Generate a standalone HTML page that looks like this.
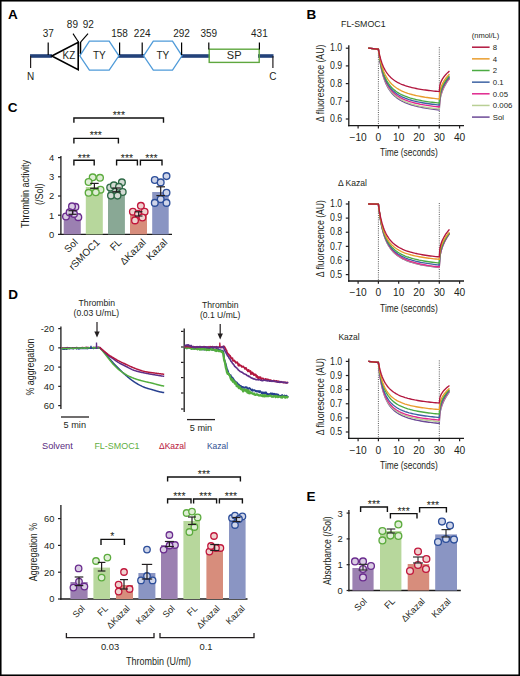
<!DOCTYPE html>
<html><head><meta charset="utf-8"><style>
html,body{margin:0;padding:0;background:#fff;}
svg{display:block;}
text{font-family:"Liberation Sans", sans-serif;}
</style></head><body>
<svg width="520" height="676" viewBox="0 0 520 676">
<rect width="520" height="676" fill="#fff"/>
<text x="8.00" y="19.20" font-size="13.5" fill="#000" font-weight="bold" >A</text>
<text x="306.50" y="19.40" font-size="13.5" fill="#000" font-weight="bold" >B</text>
<text x="7.80" y="111.60" font-size="13.5" fill="#000" font-weight="bold" >C</text>
<text x="8.20" y="299.20" font-size="13.5" fill="#000" font-weight="bold" >D</text>
<text x="306.50" y="500.60" font-size="13.5" fill="#000" font-weight="bold" >E</text>
<rect x="30.00" y="54.20" width="22.00" height="3.60" fill="#23427a" stroke="none" stroke-width="0" />
<rect x="118.00" y="54.20" width="26.00" height="3.60" fill="#23427a" stroke="none" stroke-width="0" />
<rect x="181.00" y="54.20" width="29.00" height="3.60" fill="#23427a" stroke="none" stroke-width="0" />
<rect x="258.00" y="54.20" width="15.50" height="3.60" fill="#23427a" stroke="none" stroke-width="0" />
<line x1="30.60" y1="56.00" x2="30.60" y2="68.00" stroke="#231f20" stroke-width="1.2" />
<line x1="272.90" y1="56.00" x2="272.90" y2="68.00" stroke="#231f20" stroke-width="1.2" />
<text x="30.60" y="80.20" font-size="10" fill="#231f20" text-anchor="middle" >N</text>
<text x="272.90" y="80.20" font-size="10" fill="#231f20" text-anchor="middle" >C</text>
<path d="M51.8,56 L78.2,42.2 L78.2,69.6 Z" stroke="#000" stroke-width="1.6" fill="none" />
<text x="68.90" y="59.40" font-size="11" fill="#231f20" text-anchor="middle" textLength="12.60" lengthAdjust="spacingAndGlyphs" >KZ</text>
<line x1="78.60" y1="42.00" x2="78.60" y2="54.00" stroke="#000" stroke-width="1.3" />
<line x1="80.60" y1="42.00" x2="80.60" y2="54.00" stroke="#000" stroke-width="1.3" />
<line x1="78.60" y1="42.20" x2="73.00" y2="33.60" stroke="#000" stroke-width="1.1" />
<line x1="80.60" y1="42.20" x2="88.00" y2="33.60" stroke="#000" stroke-width="1.1" />
<text x="72.40" y="27.80" font-size="10" fill="#231f20" text-anchor="middle" >89</text>
<text x="88.20" y="27.80" font-size="10" fill="#231f20" text-anchor="middle" >92</text>
<path d="M79.8,55.8 L89.4,41.2 L109.2,41.2 L118.9,55.8 L109.2,70.2 L89.4,70.2 Z" stroke="#4f9bd9" stroke-width="1.3" fill="none" />
<path d="M143.6,55.8 L153.3,41.2 L172.5,41.2 L182.0,55.8 L172.5,70.2 L153.3,70.2 Z" stroke="#4f9bd9" stroke-width="1.3" fill="none" />
<text x="99.30" y="59.40" font-size="11" fill="#231f20" text-anchor="middle" textLength="12.80" lengthAdjust="spacingAndGlyphs" >TY</text>
<text x="162.90" y="59.40" font-size="11" fill="#231f20" text-anchor="middle" textLength="12.80" lengthAdjust="spacingAndGlyphs" >TY</text>
<rect x="209.20" y="49.20" width="50.00" height="13.20" fill="none" stroke="#5fa73f" stroke-width="1.4" />
<text x="234.20" y="59.40" font-size="11" fill="#231f20" text-anchor="middle" >SP</text>
<line x1="48.20" y1="42.40" x2="48.20" y2="55.00" stroke="#000" stroke-width="1.2" />
<text x="48.20" y="36.60" font-size="10" fill="#231f20" text-anchor="middle" >37</text>
<line x1="119.60" y1="42.40" x2="119.60" y2="55.00" stroke="#000" stroke-width="1.2" />
<text x="119.60" y="36.60" font-size="10" fill="#231f20" text-anchor="middle" >158</text>
<line x1="142.20" y1="42.40" x2="142.20" y2="55.00" stroke="#000" stroke-width="1.2" />
<text x="142.20" y="36.60" font-size="10" fill="#231f20" text-anchor="middle" >224</text>
<line x1="181.60" y1="42.40" x2="181.60" y2="55.00" stroke="#000" stroke-width="1.2" />
<text x="181.60" y="36.60" font-size="10" fill="#231f20" text-anchor="middle" >292</text>
<line x1="208.80" y1="42.40" x2="208.80" y2="49.50" stroke="#000" stroke-width="1.2" />
<text x="208.80" y="36.60" font-size="10" fill="#231f20" text-anchor="middle" >359</text>
<line x1="259.40" y1="42.40" x2="259.40" y2="49.50" stroke="#000" stroke-width="1.2" />
<text x="259.40" y="36.60" font-size="10" fill="#231f20" text-anchor="middle" >431</text>
<text x="341.00" y="27.20" font-size="9.6" fill="#231f20" textLength="44.60" lengthAdjust="spacingAndGlyphs" >FL-SMOC1</text>
<line x1="348.80" y1="45.20" x2="348.80" y2="126.30" stroke="#1a1a1a" stroke-width="1.3" />
<line x1="348.10" y1="125.60" x2="464.00" y2="125.60" stroke="#1a1a1a" stroke-width="1.3" />
<line x1="345.80" y1="48.20" x2="349.00" y2="48.20" stroke="#231f20" stroke-width="1.2" />
<text x="342.20" y="51.40" font-size="10.2" fill="#231f20" text-anchor="end" textLength="12.20" lengthAdjust="spacingAndGlyphs" >1.0</text>
<line x1="345.80" y1="65.90" x2="349.00" y2="65.90" stroke="#231f20" stroke-width="1.2" />
<text x="342.20" y="69.10" font-size="10.2" fill="#231f20" text-anchor="end" textLength="12.20" lengthAdjust="spacingAndGlyphs" >0.9</text>
<line x1="345.80" y1="83.60" x2="349.00" y2="83.60" stroke="#231f20" stroke-width="1.2" />
<text x="342.20" y="86.80" font-size="10.2" fill="#231f20" text-anchor="end" textLength="12.20" lengthAdjust="spacingAndGlyphs" >0.8</text>
<line x1="345.80" y1="101.30" x2="349.00" y2="101.30" stroke="#231f20" stroke-width="1.2" />
<text x="342.20" y="104.50" font-size="10.2" fill="#231f20" text-anchor="end" textLength="12.20" lengthAdjust="spacingAndGlyphs" >0.7</text>
<line x1="345.80" y1="119.00" x2="349.00" y2="119.00" stroke="#231f20" stroke-width="1.2" />
<text x="342.20" y="122.20" font-size="10.2" fill="#231f20" text-anchor="end" textLength="12.20" lengthAdjust="spacingAndGlyphs" >0.6</text>
<line x1="358.10" y1="125.60" x2="358.10" y2="128.40" stroke="#231f20" stroke-width="1.2" />
<text x="358.10" y="140.60" font-size="10.2" fill="#231f20" text-anchor="middle" >−10</text>
<line x1="378.40" y1="125.60" x2="378.40" y2="128.40" stroke="#231f20" stroke-width="1.2" />
<text x="378.40" y="140.60" font-size="10.2" fill="#231f20" text-anchor="middle" >0</text>
<line x1="398.70" y1="125.60" x2="398.70" y2="128.40" stroke="#231f20" stroke-width="1.2" />
<text x="398.70" y="140.60" font-size="10.2" fill="#231f20" text-anchor="middle" >10</text>
<line x1="419.00" y1="125.60" x2="419.00" y2="128.40" stroke="#231f20" stroke-width="1.2" />
<text x="419.00" y="140.60" font-size="10.2" fill="#231f20" text-anchor="middle" >20</text>
<line x1="439.30" y1="125.60" x2="439.30" y2="128.40" stroke="#231f20" stroke-width="1.2" />
<text x="439.30" y="140.60" font-size="10.2" fill="#231f20" text-anchor="middle" >30</text>
<line x1="459.60" y1="125.60" x2="459.60" y2="128.40" stroke="#231f20" stroke-width="1.2" />
<text x="459.60" y="140.60" font-size="10.2" fill="#231f20" text-anchor="middle" >40</text>
<text x="408.90" y="156.40" font-size="11" fill="#231f20" text-anchor="middle" textLength="57.70" lengthAdjust="spacingAndGlyphs" >Time (seconds)</text>
<text x="323.60" y="83.30" font-size="10.8" fill="#231f20" text-anchor="middle" textLength="77.20" lengthAdjust="spacingAndGlyphs" transform="rotate(-90 323.60 83.30)" >Δ fluorescence (AU)</text>
<line x1="378.40" y1="48.20" x2="378.40" y2="125.60" stroke="#333" stroke-width="0.8" stroke-dasharray="1 1.2"/>
<line x1="439.30" y1="47.20" x2="439.30" y2="125.60" stroke="#333" stroke-width="0.8" stroke-dasharray="1 1.2"/>
<path d="M368.25,48.20 L378.40,49.26 L378.44,49.61 L378.53,50.46 L378.68,51.71 L378.87,53.27 L379.10,55.08 L379.37,57.09 L379.67,59.22 L380.02,61.45 L380.40,63.71 L380.82,65.99 L381.27,68.25 L381.76,70.46 L382.28,72.62 L382.84,74.71 L383.42,76.72 L384.04,78.64 L384.69,80.48 L385.37,82.23 L386.09,83.88 L386.83,85.45 L387.60,86.94 L388.41,88.34 L389.24,89.66 L390.10,90.91 L391.00,92.09 L391.92,93.21 L392.87,94.26 L393.85,95.24 L394.85,96.18 L395.89,97.06 L396.95,97.89 L398.04,98.68 L399.16,99.42 L400.31,100.12 L401.48,100.78 L402.68,101.41 L403.91,102.01 L405.16,102.57 L406.45,103.11 L407.75,103.61 L409.09,104.10 L410.45,104.55 L411.83,104.99 L413.25,105.40 L414.69,105.80 L416.15,106.17 L417.64,106.53 L419.15,106.87 L420.70,107.20 L422.26,107.51 L423.85,107.81 L425.47,108.09 L427.11,108.36 L428.78,108.62 L430.47,108.87 L432.19,109.11 L433.93,109.34 L435.69,109.56 L437.49,109.77 L439.30,109.97 L439.81,101.07 L440.31,98.06 L440.82,95.85 L441.33,94.04 L441.84,92.47 L442.34,91.08 L442.85,89.81 L443.36,88.65 L443.87,87.57 L444.38,86.56 L444.88,85.60 L445.39,84.69 L445.90,83.83 L446.40,83.00 L446.91,82.21 L447.42,81.45 L447.93,80.71 L448.43,80.00 L448.94,79.31 L449.45,78.64" stroke="#6c4a97" stroke-width="1.35" fill="none" stroke-linejoin="round"/>
<path d="M368.25,48.20 L378.40,49.26 L378.44,49.60 L378.53,50.42 L378.68,51.63 L378.87,53.14 L379.10,54.89 L379.37,56.83 L379.67,58.91 L380.02,61.07 L380.40,63.27 L380.82,65.49 L381.27,67.70 L381.76,69.87 L382.28,71.99 L382.84,74.03 L383.42,76.01 L384.04,77.90 L384.69,79.71 L385.37,81.43 L386.09,83.07 L386.83,84.62 L387.60,86.09 L388.41,87.48 L389.24,88.79 L390.10,90.04 L391.00,91.21 L391.92,92.31 L392.87,93.36 L393.85,94.34 L394.85,95.27 L395.89,96.15 L396.95,96.98 L398.04,97.76 L399.16,98.51 L400.31,99.21 L401.48,99.87 L402.68,100.50 L403.91,101.09 L405.16,101.66 L406.45,102.19 L407.75,102.70 L409.09,103.19 L410.45,103.65 L411.83,104.08 L413.25,104.50 L414.69,104.89 L416.15,105.27 L417.64,105.63 L419.15,105.97 L420.70,106.30 L422.26,106.61 L423.85,106.91 L425.47,107.20 L427.11,107.47 L428.78,107.73 L430.47,107.98 L432.19,108.22 L433.93,108.45 L435.69,108.67 L437.49,108.88 L439.30,109.09 L439.81,100.34 L440.31,97.38 L440.82,95.21 L441.33,93.42 L441.84,91.88 L442.34,90.51 L442.85,89.27 L443.36,88.13 L443.87,87.07 L444.38,86.07 L444.88,85.13 L445.39,84.24 L445.90,83.39 L446.40,82.57 L446.91,81.80 L447.42,81.05 L447.93,80.32 L448.43,79.62 L448.94,78.95 L449.45,78.29" stroke="#b9cf95" stroke-width="1.35" fill="none" stroke-linejoin="round"/>
<path d="M368.25,48.20 L378.40,49.26 L378.44,49.59 L378.53,50.40 L378.68,51.58 L378.87,53.06 L379.10,54.77 L379.37,56.67 L379.67,58.69 L380.02,60.80 L380.40,62.95 L380.82,65.11 L381.27,67.25 L381.76,69.36 L382.28,71.41 L382.84,73.39 L383.42,75.30 L384.04,77.13 L384.69,78.87 L385.37,80.53 L386.09,82.11 L386.83,83.60 L387.60,85.01 L388.41,86.35 L389.24,87.61 L390.10,88.80 L391.00,89.92 L391.92,90.98 L392.87,91.98 L393.85,92.92 L394.85,93.81 L395.89,94.65 L396.95,95.44 L398.04,96.19 L399.16,96.90 L400.31,97.57 L401.48,98.20 L402.68,98.80 L403.91,99.37 L405.16,99.90 L406.45,100.41 L407.75,100.90 L409.09,101.36 L410.45,101.79 L411.83,102.21 L413.25,102.60 L414.69,102.98 L416.15,103.34 L417.64,103.68 L419.15,104.01 L420.70,104.32 L422.26,104.61 L423.85,104.90 L425.47,105.17 L427.11,105.43 L428.78,105.68 L430.47,105.91 L432.19,106.14 L433.93,106.36 L435.69,106.57 L437.49,106.77 L439.30,106.96 L439.81,98.67 L440.31,95.86 L440.82,93.80 L441.33,92.11 L441.84,90.65 L442.34,89.35 L442.85,88.17 L443.36,87.09 L443.87,86.08 L444.38,85.14 L444.88,84.24 L445.39,83.40 L445.90,82.59 L446.40,81.82 L446.91,81.08 L447.42,80.37 L447.93,79.69 L448.43,79.02 L448.94,78.38 L449.45,77.76" stroke="#e0288e" stroke-width="1.35" fill="none" stroke-linejoin="round"/>
<path d="M368.25,48.20 L378.40,49.26 L378.44,49.58 L378.53,50.35 L378.68,51.49 L378.87,52.91 L379.10,54.56 L379.37,56.38 L379.67,58.33 L380.02,60.35 L380.40,62.42 L380.82,64.50 L381.27,66.57 L381.76,68.60 L382.28,70.57 L382.84,72.49 L383.42,74.33 L384.04,76.10 L384.69,77.78 L385.37,79.39 L386.09,80.91 L386.83,82.35 L387.60,83.72 L388.41,85.01 L389.24,86.23 L390.10,87.38 L391.00,88.47 L391.92,89.50 L392.87,90.47 L393.85,91.38 L394.85,92.24 L395.89,93.06 L396.95,93.82 L398.04,94.55 L399.16,95.24 L400.31,95.89 L401.48,96.50 L402.68,97.08 L403.91,97.63 L405.16,98.16 L406.45,98.65 L407.75,99.12 L409.09,99.57 L410.45,99.99 L411.83,100.40 L413.25,100.78 L414.69,101.14 L416.15,101.49 L417.64,101.82 L419.15,102.14 L420.70,102.44 L422.26,102.73 L423.85,103.01 L425.47,103.27 L427.11,103.52 L428.78,103.76 L430.47,104.00 L432.19,104.22 L433.93,104.43 L435.69,104.63 L437.49,104.83 L439.30,105.02 L439.81,97.02 L440.31,94.32 L440.82,92.33 L441.33,90.70 L441.84,89.30 L442.34,88.04 L442.85,86.91 L443.36,85.86 L443.87,84.89 L444.38,83.98 L444.88,83.12 L445.39,82.31 L445.90,81.53 L446.40,80.79 L446.91,80.08 L447.42,79.39 L447.93,78.73 L448.43,78.09 L448.94,77.47 L449.45,76.87" stroke="#3d63a3" stroke-width="1.35" fill="none" stroke-linejoin="round"/>
<path d="M368.25,48.20 L378.40,49.26 L378.44,49.56 L378.53,50.28 L378.68,51.33 L378.87,52.66 L379.10,54.21 L379.37,55.92 L379.67,57.75 L380.02,59.66 L380.40,61.61 L380.82,63.58 L381.27,65.55 L381.76,67.48 L382.28,69.37 L382.84,71.20 L383.42,72.97 L384.04,74.67 L384.69,76.29 L385.37,77.84 L386.09,79.32 L386.83,80.72 L387.60,82.05 L388.41,83.31 L389.24,84.50 L390.10,85.63 L391.00,86.69 L391.92,87.69 L392.87,88.64 L393.85,89.54 L394.85,90.39 L395.89,91.19 L396.95,91.95 L398.04,92.67 L399.16,93.34 L400.31,93.99 L401.48,94.59 L402.68,95.17 L403.91,95.72 L405.16,96.23 L406.45,96.72 L407.75,97.19 L409.09,97.63 L410.45,98.06 L411.83,98.46 L413.25,98.84 L414.69,99.20 L416.15,99.55 L417.64,99.88 L419.15,100.20 L420.70,100.50 L422.26,100.79 L423.85,101.06 L425.47,101.32 L427.11,101.58 L428.78,101.82 L430.47,102.05 L432.19,102.27 L433.93,102.48 L435.69,102.69 L437.49,102.88 L439.30,103.07 L439.81,95.27 L440.31,92.64 L440.82,90.70 L441.33,89.11 L441.84,87.74 L442.34,86.52 L442.85,85.42 L443.36,84.40 L443.87,83.45 L444.38,82.56 L444.88,81.73 L445.39,80.93 L445.90,80.18 L446.40,79.45 L446.91,78.76 L447.42,78.09 L447.93,77.45 L448.43,76.82 L448.94,76.22 L449.45,75.64" stroke="#4bab42" stroke-width="1.35" fill="none" stroke-linejoin="round"/>
<path d="M368.25,48.20 L378.40,49.26 L378.44,49.52 L378.53,50.15 L378.68,51.08 L378.87,52.25 L379.10,53.61 L379.37,55.13 L379.67,56.75 L380.02,58.46 L380.40,60.21 L380.82,61.98 L381.27,63.75 L381.76,65.50 L382.28,67.22 L382.84,68.89 L383.42,70.52 L384.04,72.08 L384.69,73.58 L385.37,75.01 L386.09,76.38 L386.83,77.69 L387.60,78.93 L388.41,80.10 L389.24,81.22 L390.10,82.28 L391.00,83.28 L391.92,84.23 L392.87,85.13 L393.85,85.98 L394.85,86.79 L395.89,87.55 L396.95,88.27 L398.04,88.96 L399.16,89.60 L400.31,90.22 L401.48,90.80 L402.68,91.35 L403.91,91.88 L405.16,92.38 L406.45,92.85 L407.75,93.30 L409.09,93.73 L410.45,94.13 L411.83,94.52 L413.25,94.89 L414.69,95.24 L416.15,95.58 L417.64,95.90 L419.15,96.20 L420.70,96.50 L422.26,96.78 L423.85,97.04 L425.47,97.30 L427.11,97.54 L428.78,97.78 L430.47,98.00 L432.19,98.22 L433.93,98.43 L435.69,98.62 L437.49,98.82 L439.30,99.00 L439.81,91.91 L440.31,89.51 L440.82,87.75 L441.33,86.30 L441.84,85.06 L442.34,83.95 L442.85,82.94 L443.36,82.01 L443.87,81.15 L444.38,80.35 L444.88,79.58 L445.39,78.86 L445.90,78.17 L446.40,77.51 L446.91,76.88 L447.42,76.27 L447.93,75.69 L448.43,75.12 L448.94,74.57 L449.45,74.04" stroke="#e99d2e" stroke-width="1.35" fill="none" stroke-linejoin="round"/>
<path d="M368.25,48.20 L378.40,49.26 L378.44,49.47 L378.53,49.98 L378.68,50.73 L378.87,51.67 L379.10,52.78 L379.37,54.01 L379.67,55.34 L380.02,56.74 L380.40,58.18 L380.82,59.64 L381.27,61.11 L381.76,62.57 L382.28,64.00 L382.84,65.40 L383.42,66.77 L384.04,68.09 L384.69,69.36 L385.37,70.58 L386.09,71.75 L386.83,72.86 L387.60,73.93 L388.41,74.94 L389.24,75.90 L390.10,76.82 L391.00,77.69 L391.92,78.51 L392.87,79.29 L393.85,80.04 L394.85,80.74 L395.89,81.41 L396.95,82.04 L398.04,82.64 L399.16,83.21 L400.31,83.75 L401.48,84.26 L402.68,84.75 L403.91,85.21 L405.16,85.66 L406.45,86.07 L407.75,86.47 L409.09,86.85 L410.45,87.21 L411.83,87.56 L413.25,87.89 L414.69,88.20 L416.15,88.50 L417.64,88.79 L419.15,89.06 L420.70,89.32 L422.26,89.57 L423.85,89.81 L425.47,90.04 L427.11,90.26 L428.78,90.47 L430.47,90.67 L432.19,90.86 L433.93,91.05 L435.69,91.23 L437.49,91.40 L439.30,91.56 L439.81,85.73 L440.31,83.76 L440.82,82.31 L441.33,81.12 L441.84,80.09 L442.34,79.18 L442.85,78.35 L443.36,77.59 L443.87,76.88 L444.38,76.22 L444.88,75.59 L445.39,75.00 L445.90,74.43 L446.40,73.89 L446.91,73.37 L447.42,72.87 L447.93,72.39 L448.43,71.92 L448.94,71.47 L449.45,71.03" stroke="#b2173f" stroke-width="1.35" fill="none" stroke-linejoin="round"/>
<text x="338.00" y="186.20" font-size="9.6" fill="#231f20" textLength="29.00" lengthAdjust="spacingAndGlyphs" >Δ Kazal</text>
<line x1="348.80" y1="201.00" x2="348.80" y2="281.70" stroke="#1a1a1a" stroke-width="1.3" />
<line x1="348.10" y1="281.00" x2="464.00" y2="281.00" stroke="#1a1a1a" stroke-width="1.3" />
<line x1="345.80" y1="204.00" x2="349.00" y2="204.00" stroke="#231f20" stroke-width="1.2" />
<text x="342.20" y="207.20" font-size="10.2" fill="#231f20" text-anchor="end" textLength="12.20" lengthAdjust="spacingAndGlyphs" >1.0</text>
<line x1="345.80" y1="218.12" x2="349.00" y2="218.12" stroke="#231f20" stroke-width="1.2" />
<text x="342.20" y="221.32" font-size="10.2" fill="#231f20" text-anchor="end" textLength="12.20" lengthAdjust="spacingAndGlyphs" >0.9</text>
<line x1="345.80" y1="232.24" x2="349.00" y2="232.24" stroke="#231f20" stroke-width="1.2" />
<text x="342.20" y="235.44" font-size="10.2" fill="#231f20" text-anchor="end" textLength="12.20" lengthAdjust="spacingAndGlyphs" >0.8</text>
<line x1="345.80" y1="246.36" x2="349.00" y2="246.36" stroke="#231f20" stroke-width="1.2" />
<text x="342.20" y="249.56" font-size="10.2" fill="#231f20" text-anchor="end" textLength="12.20" lengthAdjust="spacingAndGlyphs" >0.7</text>
<line x1="345.80" y1="260.48" x2="349.00" y2="260.48" stroke="#231f20" stroke-width="1.2" />
<text x="342.20" y="263.68" font-size="10.2" fill="#231f20" text-anchor="end" textLength="12.20" lengthAdjust="spacingAndGlyphs" >0.6</text>
<line x1="345.80" y1="274.60" x2="349.00" y2="274.60" stroke="#231f20" stroke-width="1.2" />
<text x="342.20" y="277.80" font-size="10.2" fill="#231f20" text-anchor="end" textLength="12.20" lengthAdjust="spacingAndGlyphs" >0.5</text>
<line x1="358.10" y1="281.00" x2="358.10" y2="283.80" stroke="#231f20" stroke-width="1.2" />
<text x="358.10" y="296.20" font-size="10.2" fill="#231f20" text-anchor="middle" >−10</text>
<line x1="378.40" y1="281.00" x2="378.40" y2="283.80" stroke="#231f20" stroke-width="1.2" />
<text x="378.40" y="296.20" font-size="10.2" fill="#231f20" text-anchor="middle" >0</text>
<line x1="398.70" y1="281.00" x2="398.70" y2="283.80" stroke="#231f20" stroke-width="1.2" />
<text x="398.70" y="296.20" font-size="10.2" fill="#231f20" text-anchor="middle" >10</text>
<line x1="419.00" y1="281.00" x2="419.00" y2="283.80" stroke="#231f20" stroke-width="1.2" />
<text x="419.00" y="296.20" font-size="10.2" fill="#231f20" text-anchor="middle" >20</text>
<line x1="439.30" y1="281.00" x2="439.30" y2="283.80" stroke="#231f20" stroke-width="1.2" />
<text x="439.30" y="296.20" font-size="10.2" fill="#231f20" text-anchor="middle" >30</text>
<line x1="459.60" y1="281.00" x2="459.60" y2="283.80" stroke="#231f20" stroke-width="1.2" />
<text x="459.60" y="296.20" font-size="10.2" fill="#231f20" text-anchor="middle" >40</text>
<text x="408.90" y="311.80" font-size="11" fill="#231f20" text-anchor="middle" textLength="57.70" lengthAdjust="spacingAndGlyphs" >Time (seconds)</text>
<text x="323.60" y="238.60" font-size="10.8" fill="#231f20" text-anchor="middle" textLength="77.20" lengthAdjust="spacingAndGlyphs" transform="rotate(-90 323.60 238.60)" >Δ fluorescence (AU)</text>
<line x1="378.40" y1="204.00" x2="378.40" y2="281.00" stroke="#333" stroke-width="0.8" stroke-dasharray="1 1.2"/>
<line x1="439.30" y1="203.00" x2="439.30" y2="281.00" stroke="#333" stroke-width="0.8" stroke-dasharray="1 1.2"/>
<path d="M368.25,204.00 L378.40,204.14 L378.44,204.52 L378.53,205.43 L378.68,206.76 L378.87,208.43 L379.10,210.37 L379.37,212.50 L379.67,214.78 L380.02,217.13 L380.40,219.54 L380.82,221.95 L381.27,224.33 L381.76,226.66 L382.28,228.93 L382.84,231.13 L383.42,233.23 L384.04,235.24 L384.69,237.16 L385.37,238.98 L386.09,240.70 L386.83,242.34 L387.60,243.88 L388.41,245.33 L389.24,246.70 L390.10,248.00 L391.00,249.22 L391.92,250.36 L392.87,251.45 L393.85,252.47 L394.85,253.43 L395.89,254.33 L396.95,255.19 L398.04,255.99 L399.16,256.76 L400.31,257.48 L401.48,258.16 L402.68,258.80 L403.91,259.41 L405.16,259.99 L406.45,260.54 L407.75,261.06 L409.09,261.55 L410.45,262.02 L411.83,262.46 L413.25,262.88 L414.69,263.29 L416.15,263.67 L417.64,264.04 L419.15,264.38 L420.70,264.72 L422.26,265.03 L423.85,265.34 L425.47,265.63 L427.11,265.90 L428.78,266.17 L430.47,266.42 L432.19,266.66 L433.93,266.90 L435.69,267.12 L437.49,267.33 L439.30,267.54 L439.81,257.91 L440.31,254.66 L440.82,252.26 L441.33,250.30 L441.84,248.61 L442.34,247.10 L442.85,245.74 L443.36,244.48 L443.87,243.31 L444.38,242.21 L444.88,241.18 L445.39,240.20 L445.90,239.26 L446.40,238.37 L446.91,237.51 L447.42,236.68 L447.93,235.89 L448.43,235.12 L448.94,234.37 L449.45,233.65" stroke="#6c4a97" stroke-width="1.35" fill="none" stroke-linejoin="round"/>
<path d="M368.25,204.00 L378.40,204.14 L378.44,204.51 L378.53,205.42 L378.68,206.73 L378.87,208.39 L379.10,210.30 L379.37,212.42 L379.67,214.67 L380.02,217.01 L380.40,219.39 L380.82,221.78 L381.27,224.15 L381.76,226.47 L382.28,228.73 L382.84,230.91 L383.42,233.00 L384.04,235.00 L384.69,236.91 L385.37,238.72 L386.09,240.44 L386.83,242.07 L387.60,243.61 L388.41,245.06 L389.24,246.43 L390.10,247.72 L391.00,248.93 L391.92,250.08 L392.87,251.16 L393.85,252.18 L394.85,253.14 L395.89,254.04 L396.95,254.90 L398.04,255.70 L399.16,256.47 L400.31,257.19 L401.48,257.87 L402.68,258.51 L403.91,259.12 L405.16,259.70 L406.45,260.25 L407.75,260.76 L409.09,261.26 L410.45,261.73 L411.83,262.17 L413.25,262.59 L414.69,263.00 L416.15,263.38 L417.64,263.75 L419.15,264.10 L420.70,264.43 L422.26,264.75 L423.85,265.05 L425.47,265.34 L427.11,265.62 L428.78,265.88 L430.47,266.14 L432.19,266.38 L433.93,266.61 L435.69,266.84 L437.49,267.05 L439.30,267.26 L439.81,257.71 L440.31,254.48 L440.82,252.11 L441.33,250.16 L441.84,248.48 L442.34,246.99 L442.85,245.63 L443.36,244.39 L443.87,243.23 L444.38,242.14 L444.88,241.11 L445.39,240.14 L445.90,239.21 L446.40,238.33 L446.91,237.48 L447.42,236.66 L447.93,235.87 L448.43,235.11 L448.94,234.37 L449.45,233.65" stroke="#b9cf95" stroke-width="1.35" fill="none" stroke-linejoin="round"/>
<path d="M368.25,204.00 L378.40,204.14 L378.44,204.50 L378.53,205.38 L378.68,206.66 L378.87,208.26 L379.10,210.13 L379.37,212.19 L379.67,214.39 L380.02,216.68 L380.40,219.01 L380.82,221.36 L381.27,223.69 L381.76,225.98 L382.28,228.21 L382.84,230.37 L383.42,232.45 L384.04,234.44 L384.69,236.33 L385.37,238.14 L386.09,239.86 L386.83,241.49 L387.60,243.02 L388.41,244.48 L389.24,245.85 L390.10,247.15 L391.00,248.37 L391.92,249.53 L392.87,250.62 L393.85,251.65 L394.85,252.62 L395.89,253.53 L396.95,254.40 L398.04,255.21 L399.16,255.99 L400.31,256.72 L401.48,257.41 L402.68,258.06 L403.91,258.68 L405.16,259.27 L406.45,259.82 L407.75,260.35 L409.09,260.85 L410.45,261.33 L411.83,261.78 L413.25,262.21 L414.69,262.62 L416.15,263.02 L417.64,263.39 L419.15,263.74 L420.70,264.08 L422.26,264.41 L423.85,264.72 L425.47,265.01 L427.11,265.30 L428.78,265.57 L430.47,265.83 L432.19,266.08 L433.93,266.32 L435.69,266.54 L437.49,266.76 L439.30,266.98 L439.81,257.51 L440.31,254.31 L440.82,251.95 L441.33,250.02 L441.84,248.36 L442.34,246.88 L442.85,245.53 L443.36,244.30 L443.87,243.15 L444.38,242.07 L444.88,241.05 L445.39,240.09 L445.90,239.17 L446.40,238.29 L446.91,237.44 L447.42,236.63 L447.93,235.85 L448.43,235.09 L448.94,234.36 L449.45,233.65" stroke="#e0288e" stroke-width="1.35" fill="none" stroke-linejoin="round"/>
<path d="M368.25,204.00 L378.40,204.14 L378.44,204.50 L378.53,205.38 L378.68,206.67 L378.87,208.28 L379.10,210.15 L379.37,212.20 L379.67,214.39 L380.02,216.67 L380.40,218.98 L380.82,221.30 L381.27,223.59 L381.76,225.83 L382.28,228.02 L382.84,230.12 L383.42,232.14 L384.04,234.08 L384.69,235.92 L385.37,237.66 L386.09,239.32 L386.83,240.88 L387.60,242.36 L388.41,243.75 L389.24,245.07 L390.10,246.31 L391.00,247.47 L391.92,248.57 L392.87,249.61 L393.85,250.59 L394.85,251.51 L395.89,252.37 L396.95,253.19 L398.04,253.96 L399.16,254.69 L400.31,255.38 L401.48,256.03 L402.68,256.65 L403.91,257.23 L405.16,257.78 L406.45,258.31 L407.75,258.80 L409.09,259.27 L410.45,259.72 L411.83,260.15 L413.25,260.55 L414.69,260.94 L416.15,261.30 L417.64,261.65 L419.15,261.98 L420.70,262.30 L422.26,262.60 L423.85,262.89 L425.47,263.17 L427.11,263.43 L428.78,263.69 L430.47,263.93 L432.19,264.16 L433.93,264.38 L435.69,264.60 L437.49,264.80 L439.30,265.00 L439.81,255.97 L440.31,252.92 L440.82,250.68 L441.33,248.84 L441.84,247.25 L442.34,245.84 L442.85,244.56 L443.36,243.38 L443.87,242.28 L444.38,241.25 L444.88,240.28 L445.39,239.36 L445.90,238.49 L446.40,237.65 L446.91,236.84 L447.42,236.07 L447.93,235.32 L448.43,234.60 L448.94,233.91 L449.45,233.23" stroke="#3d63a3" stroke-width="1.35" fill="none" stroke-linejoin="round"/>
<path d="M368.25,204.00 L378.40,204.14 L378.44,204.49 L378.53,205.34 L378.68,206.58 L378.87,208.14 L379.10,209.94 L379.37,211.92 L379.67,214.03 L380.02,216.23 L380.40,218.46 L380.82,220.70 L381.27,222.92 L381.76,225.09 L382.28,227.20 L382.84,229.23 L383.42,231.19 L384.04,233.06 L384.69,234.84 L385.37,236.53 L386.09,238.13 L386.83,239.64 L387.60,241.07 L388.41,242.43 L389.24,243.70 L390.10,244.90 L391.00,246.03 L391.92,247.09 L392.87,248.10 L393.85,249.04 L394.85,249.94 L395.89,250.78 L396.95,251.57 L398.04,252.32 L399.16,253.02 L400.31,253.69 L401.48,254.32 L402.68,254.92 L403.91,255.49 L405.16,256.02 L406.45,256.53 L407.75,257.01 L409.09,257.47 L410.45,257.90 L411.83,258.31 L413.25,258.71 L414.69,259.08 L416.15,259.43 L417.64,259.77 L419.15,260.10 L420.70,260.40 L422.26,260.70 L423.85,260.98 L425.47,261.25 L427.11,261.50 L428.78,261.75 L430.47,261.98 L432.19,262.21 L433.93,262.43 L435.69,262.63 L437.49,262.83 L439.30,263.02 L439.81,254.48 L440.31,251.59 L440.82,249.46 L441.33,247.72 L441.84,246.22 L442.34,244.88 L442.85,243.67 L443.36,242.55 L443.87,241.52 L444.38,240.54 L444.88,239.62 L445.39,238.75 L445.90,237.92 L446.40,237.13 L446.91,236.37 L447.42,235.64 L447.93,234.93 L448.43,234.25 L448.94,233.59 L449.45,232.95" stroke="#4bab42" stroke-width="1.35" fill="none" stroke-linejoin="round"/>
<path d="M368.25,204.00 L378.40,204.14 L378.44,204.48 L378.53,205.32 L378.68,206.54 L378.87,208.06 L379.10,209.82 L379.37,211.75 L379.67,213.80 L380.02,215.92 L380.40,218.07 L380.82,220.22 L381.27,222.34 L381.76,224.41 L382.28,226.41 L382.84,228.33 L383.42,230.17 L384.04,231.93 L384.69,233.60 L385.37,235.18 L386.09,236.67 L386.83,238.07 L387.60,239.40 L388.41,240.65 L389.24,241.82 L390.10,242.93 L391.00,243.97 L391.92,244.94 L392.87,245.86 L393.85,246.73 L394.85,247.54 L395.89,248.31 L396.95,249.03 L398.04,249.71 L399.16,250.35 L400.31,250.96 L401.48,251.53 L402.68,252.07 L403.91,252.58 L405.16,253.06 L406.45,253.52 L407.75,253.96 L409.09,254.37 L410.45,254.76 L411.83,255.13 L413.25,255.48 L414.69,255.82 L416.15,256.14 L417.64,256.44 L419.15,256.73 L420.70,257.01 L422.26,257.27 L423.85,257.52 L425.47,257.76 L427.11,257.99 L428.78,258.21 L430.47,258.42 L432.19,258.62 L433.93,258.82 L435.69,259.00 L437.49,259.18 L439.30,259.35 L439.81,251.65 L440.31,249.04 L440.82,247.13 L441.33,245.56 L441.84,244.21 L442.34,243.00 L442.85,241.91 L443.36,240.90 L443.87,239.96 L444.38,239.09 L444.88,238.26 L445.39,237.47 L445.90,236.73 L446.40,236.01 L446.91,235.33 L447.42,234.67 L447.93,234.03 L448.43,233.41 L448.94,232.82 L449.45,232.24" stroke="#e99d2e" stroke-width="1.35" fill="none" stroke-linejoin="round"/>
<path d="M368.25,204.00 L378.40,204.14 L378.44,204.43 L378.53,205.15 L378.68,206.20 L378.87,207.52 L379.10,209.05 L379.37,210.74 L379.67,212.55 L380.02,214.44 L380.40,216.37 L380.82,218.32 L381.27,220.25 L381.76,222.16 L382.28,224.02 L382.84,225.82 L383.42,227.56 L384.04,229.23 L384.69,230.83 L385.37,232.35 L386.09,233.79 L386.83,235.17 L387.60,236.47 L388.41,237.70 L389.24,238.87 L390.10,239.97 L391.00,241.01 L391.92,241.99 L392.87,242.92 L393.85,243.79 L394.85,244.62 L395.89,245.40 L396.95,246.14 L398.04,246.84 L399.16,247.50 L400.31,248.12 L401.48,248.71 L402.68,249.27 L403.91,249.81 L405.16,250.31 L406.45,250.79 L407.75,251.24 L409.09,251.67 L410.45,252.08 L411.83,252.47 L413.25,252.84 L414.69,253.20 L416.15,253.53 L417.64,253.85 L419.15,254.16 L420.70,254.45 L422.26,254.73 L423.85,255.00 L425.47,255.26 L427.11,255.50 L428.78,255.73 L430.47,255.96 L432.19,256.17 L433.93,256.38 L435.69,256.58 L437.49,256.77 L439.30,256.95 L439.81,249.13 L440.31,246.48 L440.82,244.54 L441.33,242.94 L441.84,241.57 L442.34,240.34 L442.85,239.23 L443.36,238.21 L443.87,237.26 L444.38,236.37 L444.88,235.53 L445.39,234.73 L445.90,233.97 L446.40,233.25 L446.91,232.55 L447.42,231.88 L447.93,231.23 L448.43,230.61 L448.94,230.00 L449.45,229.42" stroke="#b2173f" stroke-width="1.35" fill="none" stroke-linejoin="round"/>
<text x="338.40" y="340.20" font-size="9.6" fill="#231f20" textLength="21.20" lengthAdjust="spacingAndGlyphs" >Kazal</text>
<line x1="348.80" y1="358.40" x2="348.80" y2="439.10" stroke="#1a1a1a" stroke-width="1.3" />
<line x1="348.10" y1="438.40" x2="464.00" y2="438.40" stroke="#1a1a1a" stroke-width="1.3" />
<line x1="345.80" y1="361.40" x2="349.00" y2="361.40" stroke="#231f20" stroke-width="1.2" />
<text x="342.20" y="364.60" font-size="10.2" fill="#231f20" text-anchor="end" textLength="12.20" lengthAdjust="spacingAndGlyphs" >1.0</text>
<line x1="345.80" y1="375.52" x2="349.00" y2="375.52" stroke="#231f20" stroke-width="1.2" />
<text x="342.20" y="378.72" font-size="10.2" fill="#231f20" text-anchor="end" textLength="12.20" lengthAdjust="spacingAndGlyphs" >0.9</text>
<line x1="345.80" y1="389.64" x2="349.00" y2="389.64" stroke="#231f20" stroke-width="1.2" />
<text x="342.20" y="392.84" font-size="10.2" fill="#231f20" text-anchor="end" textLength="12.20" lengthAdjust="spacingAndGlyphs" >0.8</text>
<line x1="345.80" y1="403.76" x2="349.00" y2="403.76" stroke="#231f20" stroke-width="1.2" />
<text x="342.20" y="406.96" font-size="10.2" fill="#231f20" text-anchor="end" textLength="12.20" lengthAdjust="spacingAndGlyphs" >0.7</text>
<line x1="345.80" y1="417.88" x2="349.00" y2="417.88" stroke="#231f20" stroke-width="1.2" />
<text x="342.20" y="421.08" font-size="10.2" fill="#231f20" text-anchor="end" textLength="12.20" lengthAdjust="spacingAndGlyphs" >0.6</text>
<line x1="345.80" y1="432.00" x2="349.00" y2="432.00" stroke="#231f20" stroke-width="1.2" />
<text x="342.20" y="435.20" font-size="10.2" fill="#231f20" text-anchor="end" textLength="12.20" lengthAdjust="spacingAndGlyphs" >0.5</text>
<line x1="358.10" y1="438.40" x2="358.10" y2="441.20" stroke="#231f20" stroke-width="1.2" />
<text x="358.10" y="453.80" font-size="10.2" fill="#231f20" text-anchor="middle" >−10</text>
<line x1="378.40" y1="438.40" x2="378.40" y2="441.20" stroke="#231f20" stroke-width="1.2" />
<text x="378.40" y="453.80" font-size="10.2" fill="#231f20" text-anchor="middle" >0</text>
<line x1="398.70" y1="438.40" x2="398.70" y2="441.20" stroke="#231f20" stroke-width="1.2" />
<text x="398.70" y="453.80" font-size="10.2" fill="#231f20" text-anchor="middle" >10</text>
<line x1="419.00" y1="438.40" x2="419.00" y2="441.20" stroke="#231f20" stroke-width="1.2" />
<text x="419.00" y="453.80" font-size="10.2" fill="#231f20" text-anchor="middle" >20</text>
<line x1="439.30" y1="438.40" x2="439.30" y2="441.20" stroke="#231f20" stroke-width="1.2" />
<text x="439.30" y="453.80" font-size="10.2" fill="#231f20" text-anchor="middle" >30</text>
<line x1="459.60" y1="438.40" x2="459.60" y2="441.20" stroke="#231f20" stroke-width="1.2" />
<text x="459.60" y="453.80" font-size="10.2" fill="#231f20" text-anchor="middle" >40</text>
<text x="408.90" y="469.20" font-size="11" fill="#231f20" text-anchor="middle" textLength="57.70" lengthAdjust="spacingAndGlyphs" >Time (seconds)</text>
<text x="323.60" y="396.60" font-size="10.8" fill="#231f20" text-anchor="middle" textLength="77.20" lengthAdjust="spacingAndGlyphs" transform="rotate(-90 323.60 396.60)" >Δ fluorescence (AU)</text>
<line x1="378.40" y1="361.40" x2="378.40" y2="438.40" stroke="#333" stroke-width="0.8" stroke-dasharray="1 1.2"/>
<line x1="439.30" y1="360.40" x2="439.30" y2="438.40" stroke="#333" stroke-width="0.8" stroke-dasharray="1 1.2"/>
<path d="M368.25,361.40 L378.40,362.53 L378.44,362.94 L378.53,363.93 L378.68,365.37 L378.87,367.17 L379.10,369.23 L379.37,371.49 L379.67,373.87 L380.02,376.32 L380.40,378.79 L380.82,381.23 L381.27,383.63 L381.76,385.96 L382.28,388.21 L382.84,390.35 L383.42,392.39 L384.04,394.33 L384.69,396.16 L385.37,397.88 L386.09,399.50 L386.83,401.03 L387.60,402.46 L388.41,403.80 L389.24,405.06 L390.10,406.24 L391.00,407.35 L391.92,408.39 L392.87,409.36 L393.85,410.28 L394.85,411.14 L395.89,411.94 L396.95,412.70 L398.04,413.42 L399.16,414.09 L400.31,414.72 L401.48,415.32 L402.68,415.88 L403.91,416.41 L405.16,416.92 L406.45,417.39 L407.75,417.84 L409.09,418.27 L410.45,418.67 L411.83,419.05 L413.25,419.42 L414.69,419.76 L416.15,420.09 L417.64,420.41 L419.15,420.70 L420.70,420.99 L422.26,421.26 L423.85,421.52 L425.47,421.76 L427.11,422.00 L428.78,422.22 L430.47,422.44 L432.19,422.65 L433.93,422.84 L435.69,423.03 L437.49,423.21 L439.30,423.39 L439.81,414.48 L440.31,411.47 L440.82,409.26 L441.33,407.44 L441.84,405.88 L442.34,404.48 L442.85,403.22 L443.36,402.05 L443.87,400.97 L444.38,399.96 L444.88,399.00 L445.39,398.09 L445.90,397.23 L446.40,396.40 L446.91,395.61 L447.42,394.84 L447.93,394.11 L448.43,393.40 L448.94,392.71 L449.45,392.04" stroke="#6c4a97" stroke-width="1.35" fill="none" stroke-linejoin="round"/>
<path d="M368.25,361.40 L378.40,362.53 L378.44,362.94 L378.53,363.94 L378.68,365.39 L378.87,367.20 L379.10,369.26 L379.37,371.51 L379.67,373.88 L380.02,376.31 L380.40,378.75 L380.82,381.17 L381.27,383.53 L381.76,385.81 L382.28,388.00 L382.84,390.09 L383.42,392.07 L384.04,393.95 L384.69,395.72 L385.37,397.38 L386.09,398.94 L386.83,400.41 L387.60,401.78 L388.41,403.06 L389.24,404.27 L390.10,405.39 L391.00,406.45 L391.92,407.43 L392.87,408.36 L393.85,409.23 L394.85,410.04 L395.89,410.80 L396.95,411.52 L398.04,412.20 L399.16,412.83 L400.31,413.43 L401.48,413.99 L402.68,414.52 L403.91,415.02 L405.16,415.49 L406.45,415.94 L407.75,416.36 L409.09,416.76 L410.45,417.14 L411.83,417.50 L413.25,417.84 L414.69,418.17 L416.15,418.47 L417.64,418.77 L419.15,419.05 L420.70,419.31 L422.26,419.56 L423.85,419.81 L425.47,420.04 L427.11,420.26 L428.78,420.47 L430.47,420.67 L432.19,420.86 L433.93,421.04 L435.69,421.22 L437.49,421.39 L439.30,421.55 L439.81,413.04 L440.31,410.17 L440.82,408.06 L441.33,406.32 L441.84,404.83 L442.34,403.50 L442.85,402.29 L443.36,401.18 L443.87,400.15 L444.38,399.18 L444.88,398.26 L445.39,397.40 L445.90,396.57 L446.40,395.78 L446.91,395.02 L447.42,394.29 L447.93,393.59 L448.43,392.91 L448.94,392.25 L449.45,391.62" stroke="#b9cf95" stroke-width="1.35" fill="none" stroke-linejoin="round"/>
<path d="M368.25,361.40 L378.40,362.53 L378.44,362.93 L378.53,363.90 L378.68,365.32 L378.87,367.07 L379.10,369.09 L379.37,371.28 L379.67,373.59 L380.02,375.95 L380.40,378.33 L380.82,380.68 L381.27,382.98 L381.76,385.20 L382.28,387.33 L382.84,389.36 L383.42,391.30 L384.04,393.12 L384.69,394.84 L385.37,396.46 L386.09,397.98 L386.83,399.41 L387.60,400.75 L388.41,402.00 L389.24,403.17 L390.10,404.27 L391.00,405.29 L391.92,406.25 L392.87,407.15 L393.85,408.00 L394.85,408.79 L395.89,409.53 L396.95,410.23 L398.04,410.89 L399.16,411.51 L400.31,412.09 L401.48,412.64 L402.68,413.15 L403.91,413.64 L405.16,414.10 L406.45,414.53 L407.75,414.95 L409.09,415.34 L410.45,415.70 L411.83,416.05 L413.25,416.39 L414.69,416.70 L416.15,417.00 L417.64,417.29 L419.15,417.56 L420.70,417.82 L422.26,418.06 L423.85,418.30 L425.47,418.52 L427.11,418.74 L428.78,418.94 L430.47,419.14 L432.19,419.32 L433.93,419.50 L435.69,419.68 L437.49,419.84 L439.30,420.00 L439.81,411.77 L440.31,408.99 L440.82,406.95 L441.33,405.27 L441.84,403.83 L442.34,402.54 L442.85,401.37 L443.36,400.30 L443.87,399.30 L444.38,398.36 L444.88,397.48 L445.39,396.64 L445.90,395.84 L446.40,395.08 L446.91,394.35 L447.42,393.64 L447.93,392.96 L448.43,392.30 L448.94,391.67 L449.45,391.05" stroke="#e0288e" stroke-width="1.35" fill="none" stroke-linejoin="round"/>
<path d="M368.25,361.40 L378.40,362.53 L378.44,362.89 L378.53,363.78 L378.68,365.07 L378.87,366.68 L379.10,368.53 L379.37,370.55 L379.67,372.69 L380.02,374.88 L380.40,377.10 L380.82,379.30 L381.27,381.46 L381.76,383.55 L382.28,385.57 L382.84,387.51 L383.42,389.35 L384.04,391.10 L384.69,392.75 L385.37,394.31 L386.09,395.78 L386.83,397.16 L387.60,398.45 L388.41,399.67 L389.24,400.81 L390.10,401.88 L391.00,402.88 L391.92,403.82 L392.87,404.71 L393.85,405.54 L394.85,406.32 L395.89,407.05 L396.95,407.74 L398.04,408.39 L399.16,409.00 L400.31,409.57 L401.48,410.11 L402.68,410.63 L403.91,411.11 L405.16,411.57 L406.45,412.00 L407.75,412.41 L409.09,412.80 L410.45,413.16 L411.83,413.51 L413.25,413.84 L414.69,414.16 L416.15,414.46 L417.64,414.74 L419.15,415.01 L420.70,415.27 L422.26,415.52 L423.85,415.75 L425.47,415.98 L427.11,416.19 L428.78,416.40 L430.47,416.59 L432.19,416.78 L433.93,416.96 L435.69,417.13 L437.49,417.30 L439.30,417.46 L439.81,409.75 L440.31,407.15 L440.82,405.24 L441.33,403.67 L441.84,402.31 L442.34,401.11 L442.85,400.01 L443.36,399.01 L443.87,398.07 L444.38,397.19 L444.88,396.37 L445.39,395.58 L445.90,394.83 L446.40,394.12 L446.91,393.43 L447.42,392.77 L447.93,392.13 L448.43,391.52 L448.94,390.92 L449.45,390.35" stroke="#3d63a3" stroke-width="1.35" fill="none" stroke-linejoin="round"/>
<path d="M368.25,361.40 L378.40,362.53 L378.44,362.84 L378.53,363.58 L378.68,364.67 L378.87,366.03 L379.10,367.61 L379.37,369.36 L379.67,371.21 L380.02,373.13 L380.40,375.09 L380.82,377.05 L381.27,379.00 L381.76,380.90 L382.28,382.74 L382.84,384.53 L383.42,386.24 L384.04,387.88 L384.69,389.43 L385.37,390.91 L386.09,392.31 L386.83,393.64 L387.60,394.89 L388.41,396.07 L389.24,397.19 L390.10,398.23 L391.00,399.22 L391.92,400.15 L392.87,401.03 L393.85,401.86 L394.85,402.64 L395.89,403.37 L396.95,404.07 L398.04,404.72 L399.16,405.34 L400.31,405.92 L401.48,406.47 L402.68,406.99 L403.91,407.49 L405.16,407.96 L406.45,408.40 L407.75,408.82 L409.09,409.22 L410.45,409.60 L411.83,409.96 L413.25,410.30 L414.69,410.63 L416.15,410.94 L417.64,411.23 L419.15,411.51 L420.70,411.78 L422.26,412.04 L423.85,412.28 L425.47,412.52 L427.11,412.74 L428.78,412.96 L430.47,413.16 L432.19,413.36 L433.93,413.55 L435.69,413.73 L437.49,413.90 L439.30,414.07 L439.81,407.13 L440.31,404.78 L440.82,403.06 L441.33,401.64 L441.84,400.42 L442.34,399.34 L442.85,398.35 L443.36,397.44 L443.87,396.60 L444.38,395.81 L444.88,395.06 L445.39,394.36 L445.90,393.68 L446.40,393.04 L446.91,392.42 L447.42,391.83 L447.93,391.25 L448.43,390.70 L448.94,390.16 L449.45,389.64" stroke="#4bab42" stroke-width="1.35" fill="none" stroke-linejoin="round"/>
<path d="M368.25,361.40 L378.40,362.53 L378.44,362.81 L378.53,363.51 L378.68,364.51 L378.87,365.78 L379.10,367.24 L379.37,368.85 L379.67,370.56 L380.02,372.33 L380.40,374.14 L380.82,375.94 L381.27,377.72 L381.76,379.47 L382.28,381.16 L382.84,382.79 L383.42,384.36 L384.04,385.85 L384.69,387.27 L385.37,388.62 L386.09,389.90 L386.83,391.10 L387.60,392.24 L388.41,393.31 L389.24,394.32 L390.10,395.27 L391.00,396.17 L391.92,397.01 L392.87,397.81 L393.85,398.55 L394.85,399.26 L395.89,399.92 L396.95,400.55 L398.04,401.14 L399.16,401.70 L400.31,402.22 L401.48,402.72 L402.68,403.19 L403.91,403.63 L405.16,404.06 L406.45,404.45 L407.75,404.83 L409.09,405.19 L410.45,405.53 L411.83,405.86 L413.25,406.17 L414.69,406.46 L416.15,406.74 L417.64,407.00 L419.15,407.26 L420.70,407.50 L422.26,407.73 L423.85,407.95 L425.47,408.16 L427.11,408.36 L428.78,408.55 L430.47,408.74 L432.19,408.91 L433.93,409.08 L435.69,409.24 L437.49,409.40 L439.30,409.55 L439.81,403.53 L440.31,401.50 L440.82,400.00 L441.33,398.78 L441.84,397.72 L442.34,396.78 L442.85,395.92 L443.36,395.13 L443.87,394.40 L444.38,393.72 L444.88,393.07 L445.39,392.46 L445.90,391.87 L446.40,391.32 L446.91,390.78 L447.42,390.26 L447.93,389.77 L448.43,389.29 L448.94,388.82 L449.45,388.37" stroke="#e99d2e" stroke-width="1.35" fill="none" stroke-linejoin="round"/>
<path d="M368.25,361.40 L378.40,362.53 L378.44,362.74 L378.53,363.24 L378.68,363.98 L378.87,364.92 L379.10,366.01 L379.37,367.22 L379.67,368.53 L380.02,369.90 L380.40,371.31 L380.82,372.74 L381.27,374.17 L381.76,375.58 L382.28,376.98 L382.84,378.33 L383.42,379.65 L384.04,380.92 L384.69,382.14 L385.37,383.31 L386.09,384.42 L386.83,385.49 L387.60,386.50 L388.41,387.47 L389.24,388.38 L390.10,389.25 L391.00,390.07 L391.92,390.85 L392.87,391.59 L393.85,392.29 L394.85,392.95 L395.89,393.58 L396.95,394.18 L398.04,394.74 L399.16,395.27 L400.31,395.78 L401.48,396.26 L402.68,396.72 L403.91,397.15 L405.16,397.56 L406.45,397.95 L407.75,398.33 L409.09,398.68 L410.45,399.02 L411.83,399.34 L413.25,399.64 L414.69,399.94 L416.15,400.21 L417.64,400.48 L419.15,400.73 L420.70,400.98 L422.26,401.21 L423.85,401.43 L425.47,401.64 L427.11,401.85 L428.78,402.04 L430.47,402.23 L432.19,402.41 L433.93,402.58 L435.69,402.74 L437.49,402.90 L439.30,403.05 L439.81,398.08 L440.31,396.40 L440.82,395.16 L441.33,394.15 L441.84,393.27 L442.34,392.49 L442.85,391.79 L443.36,391.14 L443.87,390.53 L444.38,389.97 L444.88,389.43 L445.39,388.93 L445.90,388.44 L446.40,387.98 L446.91,387.54 L447.42,387.11 L447.93,386.70 L448.43,386.30 L448.94,385.92 L449.45,385.55" stroke="#b2173f" stroke-width="1.35" fill="none" stroke-linejoin="round"/>
<text x="471.70" y="38.20" font-size="7.6" fill="#231f20" textLength="27.60" lengthAdjust="spacingAndGlyphs" >(nmol/L)</text>
<line x1="472.00" y1="47.20" x2="489.60" y2="47.20" stroke="#b2173f" stroke-width="1.5" />
<text x="492.80" y="50.00" font-size="7.8" fill="#231f20" >8</text>
<line x1="472.00" y1="58.85" x2="489.60" y2="58.85" stroke="#e99d2e" stroke-width="1.5" />
<text x="492.80" y="61.65" font-size="7.8" fill="#231f20" >4</text>
<line x1="472.00" y1="70.50" x2="489.60" y2="70.50" stroke="#4bab42" stroke-width="1.5" />
<text x="492.80" y="73.30" font-size="7.8" fill="#231f20" >2</text>
<line x1="472.00" y1="82.15" x2="489.60" y2="82.15" stroke="#3d63a3" stroke-width="1.5" />
<text x="492.80" y="84.95" font-size="7.8" fill="#231f20" >0.1</text>
<line x1="472.00" y1="93.80" x2="489.60" y2="93.80" stroke="#e0288e" stroke-width="1.5" />
<text x="492.80" y="96.60" font-size="7.8" fill="#231f20" >0.05</text>
<line x1="472.00" y1="105.45" x2="489.60" y2="105.45" stroke="#b9cf95" stroke-width="1.5" />
<text x="492.80" y="108.25" font-size="7.8" fill="#231f20" >0.006</text>
<line x1="472.00" y1="117.10" x2="489.60" y2="117.10" stroke="#6c4a97" stroke-width="1.5" />
<text x="492.80" y="119.90" font-size="7.8" fill="#231f20" >Sol</text>
<line x1="60.90" y1="156.00" x2="60.90" y2="235.10" stroke="#1a1a1a" stroke-width="1.3" />
<line x1="60.20" y1="234.40" x2="172.00" y2="234.40" stroke="#1a1a1a" stroke-width="1.3" />
<line x1="58.00" y1="234.40" x2="61.00" y2="234.40" stroke="#231f20" stroke-width="1.2" />
<text x="54.20" y="237.80" font-size="9.4" fill="#231f20" text-anchor="end" >0</text>
<line x1="58.00" y1="215.20" x2="61.00" y2="215.20" stroke="#231f20" stroke-width="1.2" />
<text x="54.20" y="218.60" font-size="9.4" fill="#231f20" text-anchor="end" >1</text>
<line x1="58.00" y1="196.00" x2="61.00" y2="196.00" stroke="#231f20" stroke-width="1.2" />
<text x="54.20" y="199.40" font-size="9.4" fill="#231f20" text-anchor="end" >2</text>
<line x1="58.00" y1="176.80" x2="61.00" y2="176.80" stroke="#231f20" stroke-width="1.2" />
<text x="54.20" y="180.20" font-size="9.4" fill="#231f20" text-anchor="end" >3</text>
<line x1="58.00" y1="157.60" x2="61.00" y2="157.60" stroke="#231f20" stroke-width="1.2" />
<text x="54.20" y="161.00" font-size="9.4" fill="#231f20" text-anchor="end" >4</text>
<text x="29.20" y="194.00" font-size="10.8" fill="#231f20" text-anchor="middle" textLength="67.90" lengthAdjust="spacingAndGlyphs" transform="rotate(-90 29.20 194.00)" >Thrombin activity</text>
<text x="43.40" y="194.30" font-size="10.2" fill="#231f20" text-anchor="middle" textLength="21.50" lengthAdjust="spacingAndGlyphs" transform="rotate(-90 43.40 194.30)" >(/Sol)</text>
<rect x="63.70" y="213.00" width="17.10" height="21.40" fill="#9b80b1" stroke="none" stroke-width="0" />
<rect x="85.80" y="187.00" width="17.00" height="47.40" fill="#b7d79c" stroke="none" stroke-width="0" />
<rect x="108.00" y="190.50" width="16.90" height="43.90" fill="#89a895" stroke="none" stroke-width="0" />
<rect x="130.00" y="213.90" width="17.00" height="20.50" fill="#d78d7c" stroke="none" stroke-width="0" />
<rect x="152.20" y="192.00" width="16.50" height="42.40" fill="#8a95c3" stroke="none" stroke-width="0" />
<circle cx="75.40" cy="206.90" r="3.35" fill="#d9cce3" stroke="#6a2c8e" stroke-width="1.35"/>
<circle cx="72.00" cy="206.40" r="3.35" fill="#d9cce3" stroke="#6a2c8e" stroke-width="1.35"/>
<circle cx="78.30" cy="217.20" r="3.35" fill="#d9cce3" stroke="#6a2c8e" stroke-width="1.35"/>
<circle cx="66.00" cy="216.50" r="3.35" fill="#d9cce3" stroke="#6a2c8e" stroke-width="1.35"/>
<circle cx="74.00" cy="213.90" r="3.35" fill="#d9cce3" stroke="#6a2c8e" stroke-width="1.35"/>
<circle cx="69.60" cy="212.40" r="3.35" fill="#d9cce3" stroke="#6a2c8e" stroke-width="1.35"/>
<line x1="72.50" y1="210.70" x2="72.50" y2="214.30" stroke="#231f20" stroke-width="1.2" />
<line x1="68.40" y1="210.70" x2="76.60" y2="210.70" stroke="#231f20" stroke-width="1.2" />
<line x1="68.40" y1="214.30" x2="76.60" y2="214.30" stroke="#231f20" stroke-width="1.2" />
<circle cx="92.70" cy="177.30" r="3.35" fill="#dfeed5" stroke="#5cab3e" stroke-width="1.35"/>
<circle cx="100.00" cy="177.80" r="3.35" fill="#dfeed5" stroke="#5cab3e" stroke-width="1.35"/>
<circle cx="88.60" cy="182.00" r="3.35" fill="#dfeed5" stroke="#5cab3e" stroke-width="1.35"/>
<circle cx="100.50" cy="189.70" r="3.35" fill="#dfeed5" stroke="#5cab3e" stroke-width="1.35"/>
<circle cx="88.60" cy="192.80" r="3.35" fill="#dfeed5" stroke="#5cab3e" stroke-width="1.35"/>
<circle cx="95.80" cy="192.30" r="3.35" fill="#dfeed5" stroke="#5cab3e" stroke-width="1.35"/>
<line x1="94.40" y1="183.40" x2="94.40" y2="188.30" stroke="#231f20" stroke-width="1.2" />
<line x1="90.15" y1="183.40" x2="98.65" y2="183.40" stroke="#231f20" stroke-width="1.2" />
<line x1="90.15" y1="188.30" x2="98.65" y2="188.30" stroke="#231f20" stroke-width="1.2" />
<circle cx="110.20" cy="187.50" r="3.35" fill="#d3dbd4" stroke="#2f6a47" stroke-width="1.35"/>
<circle cx="113.90" cy="185.40" r="3.35" fill="#d3dbd4" stroke="#2f6a47" stroke-width="1.35"/>
<circle cx="121.90" cy="182.40" r="3.35" fill="#d3dbd4" stroke="#2f6a47" stroke-width="1.35"/>
<circle cx="119.00" cy="186.80" r="3.35" fill="#d3dbd4" stroke="#2f6a47" stroke-width="1.35"/>
<circle cx="122.70" cy="192.00" r="3.35" fill="#d3dbd4" stroke="#2f6a47" stroke-width="1.35"/>
<circle cx="111.00" cy="195.60" r="3.35" fill="#d3dbd4" stroke="#2f6a47" stroke-width="1.35"/>
<circle cx="117.50" cy="195.60" r="3.35" fill="#d3dbd4" stroke="#2f6a47" stroke-width="1.35"/>
<line x1="116.50" y1="188.00" x2="116.50" y2="191.80" stroke="#231f20" stroke-width="1.2" />
<line x1="112.25" y1="188.00" x2="120.75" y2="188.00" stroke="#231f20" stroke-width="1.2" />
<line x1="112.25" y1="191.80" x2="120.75" y2="191.80" stroke="#231f20" stroke-width="1.2" />
<circle cx="140.90" cy="205.80" r="3.35" fill="#efd2cf" stroke="#c1173c" stroke-width="1.35"/>
<circle cx="132.90" cy="211.70" r="3.35" fill="#efd2cf" stroke="#c1173c" stroke-width="1.35"/>
<circle cx="144.60" cy="211.70" r="3.35" fill="#efd2cf" stroke="#c1173c" stroke-width="1.35"/>
<circle cx="138.00" cy="213.90" r="3.35" fill="#efd2cf" stroke="#c1173c" stroke-width="1.35"/>
<circle cx="142.40" cy="217.50" r="3.35" fill="#efd2cf" stroke="#c1173c" stroke-width="1.35"/>
<circle cx="135.00" cy="220.40" r="3.35" fill="#efd2cf" stroke="#c1173c" stroke-width="1.35"/>
<line x1="138.70" y1="211.80" x2="138.70" y2="216.00" stroke="#231f20" stroke-width="1.2" />
<line x1="134.90" y1="211.80" x2="142.50" y2="211.80" stroke="#231f20" stroke-width="1.2" />
<line x1="134.90" y1="216.00" x2="142.50" y2="216.00" stroke="#231f20" stroke-width="1.2" />
<circle cx="166.50" cy="176.10" r="3.35" fill="#cfd5e9" stroke="#2c4e9a" stroke-width="1.35"/>
<circle cx="154.80" cy="180.00" r="3.35" fill="#cfd5e9" stroke="#2c4e9a" stroke-width="1.35"/>
<circle cx="160.70" cy="182.40" r="3.35" fill="#cfd5e9" stroke="#2c4e9a" stroke-width="1.35"/>
<circle cx="166.50" cy="192.70" r="3.35" fill="#cfd5e9" stroke="#2c4e9a" stroke-width="1.35"/>
<circle cx="160.70" cy="199.20" r="3.35" fill="#cfd5e9" stroke="#2c4e9a" stroke-width="1.35"/>
<circle cx="154.80" cy="202.90" r="3.35" fill="#cfd5e9" stroke="#2c4e9a" stroke-width="1.35"/>
<circle cx="166.50" cy="202.90" r="3.35" fill="#cfd5e9" stroke="#2c4e9a" stroke-width="1.35"/>
<line x1="160.70" y1="186.80" x2="160.70" y2="195.60" stroke="#231f20" stroke-width="1.2" />
<line x1="156.40" y1="186.80" x2="165.00" y2="186.80" stroke="#231f20" stroke-width="1.2" />
<line x1="156.40" y1="195.60" x2="165.00" y2="195.60" stroke="#231f20" stroke-width="1.2" />
<path d="M73.90,122.70 L73.90,118.00 L163.50,118.00 L163.50,122.70" stroke="#111" stroke-width="1.4" fill="none" />
<text x="118.90" y="118.96" font-size="10.5" fill="#231f20" text-anchor="middle" >***</text>
<path d="M73.90,143.50 L73.90,138.40 L118.40,138.40 L118.40,143.50" stroke="#111" stroke-width="1.4" fill="none" />
<text x="95.80" y="139.06" font-size="10.5" fill="#231f20" text-anchor="middle" >***</text>
<path d="M73.90,165.40 L73.90,160.30 L94.20,160.30 L94.20,165.40" stroke="#111" stroke-width="1.4" fill="none" />
<text x="84.00" y="161.66" font-size="10.5" fill="#231f20" text-anchor="middle" >***</text>
<path d="M116.60,165.40 L116.60,160.30 L137.40,160.30 L137.40,165.40" stroke="#111" stroke-width="1.4" fill="none" />
<text x="127.00" y="161.66" font-size="10.5" fill="#231f20" text-anchor="middle" >***</text>
<path d="M140.40,165.40 L140.40,160.30 L162.00,160.30 L162.00,165.40" stroke="#111" stroke-width="1.4" fill="none" />
<text x="151.50" y="161.66" font-size="10.5" fill="#231f20" text-anchor="middle" >***</text>
<text x="78.50" y="243.00" font-size="10" fill="#231f20" text-anchor="end" transform="rotate(-45 78.50 243.00)" >Sol</text>
<text x="100.50" y="243.00" font-size="10" fill="#231f20" text-anchor="end" transform="rotate(-45 100.50 243.00)" >rSMOC1</text>
<text x="122.20" y="243.00" font-size="10" fill="#231f20" text-anchor="end" transform="rotate(-45 122.20 243.00)" >FL</text>
<text x="146.50" y="243.00" font-size="10" fill="#231f20" text-anchor="end" transform="rotate(-45 146.50 243.00)" >ΔKazal</text>
<text x="168.00" y="243.00" font-size="10" fill="#231f20" text-anchor="end" transform="rotate(-45 168.00 243.00)" >Kazal</text>
<line x1="60.90" y1="326.50" x2="60.90" y2="409.00" stroke="#1a1a1a" stroke-width="1.3" />
<line x1="58.20" y1="328.60" x2="61.00" y2="328.60" stroke="#231f20" stroke-width="1.2" />
<text x="54.20" y="332.00" font-size="9.4" fill="#231f20" text-anchor="end" >-20</text>
<line x1="58.20" y1="347.85" x2="61.00" y2="347.85" stroke="#231f20" stroke-width="1.2" />
<text x="54.20" y="351.25" font-size="9.4" fill="#231f20" text-anchor="end" >0</text>
<line x1="58.20" y1="367.10" x2="61.00" y2="367.10" stroke="#231f20" stroke-width="1.2" />
<text x="54.20" y="370.50" font-size="9.4" fill="#231f20" text-anchor="end" >20</text>
<line x1="58.20" y1="386.35" x2="61.00" y2="386.35" stroke="#231f20" stroke-width="1.2" />
<text x="54.20" y="389.75" font-size="9.4" fill="#231f20" text-anchor="end" >40</text>
<line x1="58.20" y1="405.60" x2="61.00" y2="405.60" stroke="#231f20" stroke-width="1.2" />
<text x="54.20" y="409.00" font-size="9.4" fill="#231f20" text-anchor="end" >60</text>
<text x="33.60" y="367.00" font-size="10.8" fill="#231f20" text-anchor="middle" textLength="57.00" lengthAdjust="spacingAndGlyphs" transform="rotate(-90 33.60 367.00)" >% aggregation</text>
<line x1="184.20" y1="328.50" x2="184.20" y2="412.00" stroke="#1a1a1a" stroke-width="1.3" />
<line x1="181.00" y1="331.40" x2="183.60" y2="331.40" stroke="#231f20" stroke-width="1.2" />
<line x1="181.00" y1="347.00" x2="183.60" y2="347.00" stroke="#231f20" stroke-width="1.2" />
<line x1="181.00" y1="362.40" x2="183.60" y2="362.40" stroke="#231f20" stroke-width="1.2" />
<line x1="181.00" y1="377.60" x2="183.60" y2="377.60" stroke="#231f20" stroke-width="1.2" />
<line x1="181.00" y1="393.00" x2="183.60" y2="393.00" stroke="#231f20" stroke-width="1.2" />
<line x1="181.00" y1="409.00" x2="183.60" y2="409.00" stroke="#231f20" stroke-width="1.2" />
<text x="96.80" y="305.60" font-size="8.6" fill="#231f20" text-anchor="middle" textLength="36.50" lengthAdjust="spacingAndGlyphs" >Thrombin</text>
<text x="96.30" y="315.60" font-size="8.6" fill="#231f20" text-anchor="middle" textLength="45.50" lengthAdjust="spacingAndGlyphs" >(0.03 U/mL)</text>
<text x="220.20" y="307.60" font-size="8.6" fill="#231f20" text-anchor="middle" textLength="36.50" lengthAdjust="spacingAndGlyphs" >Thrombin</text>
<text x="220.20" y="318.00" font-size="8.6" fill="#231f20" text-anchor="middle" textLength="40.40" lengthAdjust="spacingAndGlyphs" >(0.1 U/mL)</text>
<line x1="97.00" y1="322.00" x2="97.00" y2="333.50" stroke="#231f20" stroke-width="1.2" />
<path d="M94.30,331.50 L97.00,337.50 L99.70,331.50 Z" stroke="none" stroke-width="0" fill="#231f20" />
<line x1="220.20" y1="324.00" x2="220.20" y2="335.50" stroke="#231f20" stroke-width="1.2" />
<path d="M217.50,333.50 L220.20,339.50 L222.90,333.50 Z" stroke="none" stroke-width="0" fill="#231f20" />
<line x1="61.00" y1="417.00" x2="89.00" y2="417.00" stroke="#231f20" stroke-width="1.3" />
<text x="74.80" y="428.20" font-size="9.2" fill="#231f20" text-anchor="middle" textLength="22.40" lengthAdjust="spacingAndGlyphs" >5 min</text>
<line x1="187.00" y1="419.60" x2="215.00" y2="419.60" stroke="#231f20" stroke-width="1.3" />
<text x="201.00" y="430.60" font-size="9.2" fill="#231f20" text-anchor="middle" textLength="22.40" lengthAdjust="spacingAndGlyphs" >5 min</text>
<text x="42.00" y="449.40" font-size="9.6" fill="#5a2a80" textLength="30.80" lengthAdjust="spacingAndGlyphs" >Solvent</text>
<text x="94.40" y="449.40" font-size="9.6" fill="#5fae3f" textLength="45.20" lengthAdjust="spacingAndGlyphs" >FL-SMOC1</text>
<text x="159.00" y="449.40" font-size="9.6" fill="#b8143a" textLength="27.00" lengthAdjust="spacingAndGlyphs" >ΔKazal</text>
<text x="207.00" y="449.40" font-size="9.6" fill="#2f4f92" textLength="21.00" lengthAdjust="spacingAndGlyphs" >Kazal</text>
<path d="M61.50,347.84 L62.50,348.01 L63.50,347.89 L64.50,348.02 L65.50,348.01 L66.50,347.66 L67.50,347.61 L68.50,348.09 L69.50,347.73 L70.50,347.70 L71.50,348.14 L72.50,347.81 L73.50,348.01 L74.50,347.78 L75.50,347.86 L76.50,347.56 L77.50,347.83 L78.50,347.95 L79.50,347.73 L80.50,347.85 L81.50,347.79 L82.50,347.41 L83.50,347.81 L84.50,347.69 L85.50,347.50 L86.50,347.33 L87.50,347.81 L88.50,347.56 L89.50,347.69 L90.50,347.77 L91.50,347.66 L92.50,347.77 L93.50,347.44 L94.50,347.66 L95.50,347.43 L96.50,347.71 L97.50,347.66 L98.50,347.18 L99.50,347.19" stroke="#b3163e" stroke-width="1.5" fill="none" stroke-linejoin="round"/>
<path d="M61.50,348.13 L62.50,348.56 L63.50,348.22 L64.50,348.32 L65.50,348.10 L66.50,348.21 L67.50,348.11 L68.50,348.07 L69.50,348.19 L70.50,348.17 L71.50,348.35 L72.50,348.19 L73.50,348.32 L74.50,348.26 L75.50,348.32 L76.50,348.11 L77.50,347.78 L78.50,348.18 L79.50,348.23 L80.50,348.17 L81.50,347.95 L82.50,348.02 L83.50,347.70 L84.50,348.05 L85.50,347.87 L86.50,347.68 L87.50,347.53 L88.50,347.98 L89.50,348.05 L90.50,347.49 L91.50,347.89 L92.50,347.64 L93.50,347.46 L94.50,347.53 L95.50,347.80 L96.50,347.84 L97.50,347.32 L98.50,347.64 L99.50,347.28" stroke="#5f2e88" stroke-width="1.5" fill="none" stroke-linejoin="round"/>
<path d="M61.50,349.20 L62.50,348.82 L63.50,349.29 L64.50,349.35 L65.50,348.89 L66.50,349.31 L67.50,348.66 L68.50,348.42 L69.50,348.86 L70.50,348.32 L71.50,348.44 L72.50,348.60 L73.50,348.75 L74.50,348.32 L75.50,348.19 L76.50,348.90 L77.50,348.37 L78.50,348.92 L79.50,348.84 L80.50,348.34 L81.50,348.39 L82.50,348.41 L83.50,348.50 L84.50,348.43 L85.50,348.36 L86.50,348.39 L87.50,348.65 L88.50,348.23 L89.50,348.13 L90.50,348.37 L91.50,347.90 L92.50,347.93 L93.50,348.51 L94.50,348.07 L95.50,348.07 L96.50,347.56 L97.50,347.89 L98.50,348.01 L99.50,347.48" stroke="#263f8e" stroke-width="1.5" fill="none" stroke-linejoin="round"/>
<path d="M61.50,348.67 L62.50,348.66 L63.50,348.29 L64.50,348.61 L65.50,348.49 L66.50,348.59 L67.50,348.37 L68.50,348.56 L69.50,348.55 L70.50,348.10 L71.50,348.10 L72.50,348.45 L73.50,348.60 L74.50,348.15 L75.50,348.24 L76.50,348.30 L77.50,348.12 L78.50,348.12 L79.50,348.06 L80.50,348.08 L81.50,348.19 L82.50,347.99 L83.50,348.01 L84.50,348.22 L85.50,347.75 L86.50,348.05 L87.50,348.13 L88.50,347.85 L89.50,347.78 L90.50,348.10 L91.50,347.74 L92.50,347.68 L93.50,347.81 L94.50,347.94 L95.50,347.56 L96.50,347.67 L97.50,347.65 L98.50,347.93 L99.50,347.67" stroke="#52ae3e" stroke-width="1.5" fill="none" stroke-linejoin="round"/>
<path d="M99.70,347.40 L100.20,347.92 L100.70,348.45 L101.20,349.10 L101.70,349.52 L102.20,349.99 L102.70,350.51 L103.20,351.04 L103.70,351.59 L104.20,352.14 L104.70,352.71 L105.20,353.30 L105.70,353.89 L106.20,354.50 L106.70,355.11 L107.20,355.74 L107.70,356.37 L108.20,357.00 L108.70,357.63 L109.20,358.25 L109.70,358.87 L110.20,359.47 L110.70,360.06 L111.20,360.65 L111.70,361.22 L112.20,361.79 L112.70,362.35 L113.20,362.90 L113.70,363.45 L114.20,363.98 L114.70,364.51 L115.20,365.04 L115.70,365.56 L116.20,366.07 L116.70,366.58 L117.20,367.09 L117.70,367.59 L118.20,368.09 L118.70,368.59 L119.20,369.08 L119.70,369.58 L120.20,370.07 L120.70,370.55 L121.20,371.03 L121.70,371.51 L122.20,371.99 L122.70,372.46 L123.20,372.92 L123.70,373.38 L124.20,373.84 L124.70,374.29 L125.20,374.74 L125.70,375.18 L126.20,375.62 L126.70,376.06 L127.20,376.49 L127.70,376.91 L128.20,377.34 L128.70,377.75 L129.20,378.17 L129.70,378.58 L130.20,378.98 L130.70,379.37 L131.20,379.76 L131.70,380.14 L132.20,380.51 L132.70,380.87 L133.20,381.22 L133.70,381.56 L134.20,381.89 L134.70,382.22 L135.20,382.54 L135.70,382.85 L136.20,383.16 L136.70,383.46 L137.20,383.75 L137.70,384.04 L138.20,384.33 L138.70,384.61 L139.20,384.89 L139.70,385.15 L140.20,385.42 L140.70,385.67 L141.20,385.92 L141.70,386.16 L142.20,386.40 L142.70,386.62 L143.20,386.84 L143.70,387.05 L144.20,387.25 L144.70,387.44 L145.20,387.63 L145.70,387.80 L146.20,387.97 L146.70,388.13 L147.20,388.28 L147.70,388.43 L148.20,388.58 L148.70,388.71 L149.20,388.85 L149.70,388.99 L150.20,389.12 L150.70,389.26 L151.20,389.40 L151.70,389.54 L152.20,389.68 L152.70,389.82 L153.20,389.97 L153.70,390.12 L154.20,390.27 L154.70,390.42 L155.20,390.58 L155.70,390.73 L156.20,390.87 L156.70,391.02 L157.20,391.16 L157.70,391.29 L158.20,391.42 L158.70,391.55 L159.20,391.67 L159.70,391.79 L160.20,391.90 L160.70,392.01 L161.20,392.11 L161.70,392.22 L162.20,392.31 L162.70,392.39 L163.20,392.46 L163.70,392.52 L164.20,392.57" stroke="#263f8e" stroke-width="1.5" fill="none" stroke-linejoin="round"/>
<path d="M99.70,347.40 L100.20,348.00 L100.70,348.61 L101.20,349.40 L101.70,349.90 L102.20,350.46 L102.70,351.07 L103.20,351.69 L103.70,352.32 L104.20,352.94 L104.70,353.57 L105.20,354.21 L105.70,354.84 L106.20,355.48 L106.70,356.13 L107.20,356.77 L107.70,357.42 L108.20,358.08 L108.70,358.73 L109.20,359.37 L109.70,360.01 L110.20,360.64 L110.70,361.26 L111.20,361.87 L111.70,362.48 L112.20,363.06 L112.70,363.64 L113.20,364.20 L113.70,364.75 L114.20,365.28 L114.70,365.80 L115.20,366.31 L115.70,366.81 L116.20,367.30 L116.70,367.78 L117.20,368.24 L117.70,368.69 L118.20,369.13 L118.70,369.56 L119.20,369.97 L119.70,370.38 L120.20,370.77 L120.70,371.15 L121.20,371.52 L121.70,371.89 L122.20,372.24 L122.70,372.58 L123.20,372.92 L123.70,373.24 L124.20,373.56 L124.70,373.87 L125.20,374.17 L125.70,374.46 L126.20,374.75 L126.70,375.02 L127.20,375.30 L127.70,375.56 L128.20,375.82 L128.70,376.07 L129.20,376.32 L129.70,376.56 L130.20,376.79 L130.70,377.02 L131.20,377.24 L131.70,377.46 L132.20,377.67 L132.70,377.87 L133.20,378.07 L133.70,378.26 L134.20,378.45 L134.70,378.63 L135.20,378.80 L135.70,378.97 L136.20,379.14 L136.70,379.30 L137.20,379.46 L137.70,379.61 L138.20,379.76 L138.70,379.91 L139.20,380.06 L139.70,380.20 L140.20,380.34 L140.70,380.48 L141.20,380.62 L141.70,380.75 L142.20,380.88 L142.70,381.01 L143.20,381.14 L143.70,381.27 L144.20,381.39 L144.70,381.51 L145.20,381.63 L145.70,381.75 L146.20,381.87 L146.70,381.98 L147.20,382.09 L147.70,382.20 L148.20,382.31 L148.70,382.42 L149.20,382.52 L149.70,382.63 L150.20,382.74 L150.70,382.85 L151.20,382.96 L151.70,383.08 L152.20,383.20 L152.70,383.33 L153.20,383.46 L153.70,383.59 L154.20,383.73 L154.70,383.87 L155.20,384.01 L155.70,384.15 L156.20,384.29 L156.70,384.43 L157.20,384.56 L157.70,384.70 L158.20,384.83 L158.70,384.96 L159.20,385.08 L159.70,385.20 L160.20,385.32 L160.70,385.43 L161.20,385.55 L161.70,385.66 L162.20,385.76 L162.70,385.84 L163.20,385.92 L163.70,385.99 L164.20,386.04" stroke="#52ae3e" stroke-width="1.5" fill="none" stroke-linejoin="round"/>
<path d="M99.70,347.40 L100.20,347.88 L100.70,348.35 L101.20,348.97 L101.70,349.36 L102.20,349.80 L102.70,350.28 L103.20,350.76 L103.70,351.25 L104.20,351.73 L104.70,352.21 L105.20,352.69 L105.70,353.16 L106.20,353.62 L106.70,354.07 L107.20,354.50 L107.70,354.92 L108.20,355.32 L108.70,355.71 L109.20,356.08 L109.70,356.44 L110.20,356.79 L110.70,357.13 L111.20,357.47 L111.70,357.81 L112.20,358.16 L112.70,358.51 L113.20,358.86 L113.70,359.22 L114.20,359.58 L114.70,359.95 L115.20,360.31 L115.70,360.67 L116.20,361.03 L116.70,361.38 L117.20,361.72 L117.70,362.05 L118.20,362.36 L118.70,362.67 L119.20,362.96 L119.70,363.25 L120.20,363.52 L120.70,363.78 L121.20,364.04 L121.70,364.29 L122.20,364.53 L122.70,364.77 L123.20,365.01 L123.70,365.25 L124.20,365.49 L124.70,365.74 L125.20,365.98 L125.70,366.23 L126.20,366.49 L126.70,366.75 L127.20,367.02 L127.70,367.28 L128.20,367.55 L128.70,367.83 L129.20,368.10 L129.70,368.37 L130.20,368.63 L130.70,368.89 L131.20,369.14 L131.70,369.38 L132.20,369.61 L132.70,369.82 L133.20,370.03 L133.70,370.23 L134.20,370.41 L134.70,370.59 L135.20,370.75 L135.70,370.91 L136.20,371.06 L136.70,371.20 L137.20,371.33 L137.70,371.47 L138.20,371.60 L138.70,371.72 L139.20,371.84 L139.70,371.96 L140.20,372.08 L140.70,372.19 L141.20,372.30 L141.70,372.41 L142.20,372.52 L142.70,372.62 L143.20,372.73 L143.70,372.83 L144.20,372.93 L144.70,373.03 L145.20,373.14 L145.70,373.24 L146.20,373.33 L146.70,373.43 L147.20,373.53 L147.70,373.62 L148.20,373.72 L148.70,373.81 L149.20,373.90 L149.70,373.99 L150.20,374.08 L150.70,374.17 L151.20,374.25 L151.70,374.34 L152.20,374.43 L152.70,374.51 L153.20,374.60 L153.70,374.68 L154.20,374.76 L154.70,374.85 L155.20,374.93 L155.70,375.02 L156.20,375.10 L156.70,375.18 L157.20,375.27 L157.70,375.35 L158.20,375.43 L158.70,375.51 L159.20,375.59 L159.70,375.68 L160.20,375.76 L160.70,375.84 L161.20,375.92 L161.70,375.99 L162.20,376.07 L162.70,376.13 L163.20,376.19 L163.70,376.24 L164.20,376.28" stroke="#5f2e88" stroke-width="1.5" fill="none" stroke-linejoin="round"/>
<path d="M99.70,347.40 L100.20,347.88 L100.70,348.35 L101.20,348.86 L101.70,349.20 L102.20,349.57 L102.70,349.99 L103.20,350.40 L103.70,350.81 L104.20,351.23 L104.70,351.64 L105.20,352.06 L105.70,352.48 L106.20,352.90 L106.70,353.31 L107.20,353.71 L107.70,354.11 L108.20,354.50 L108.70,354.87 L109.20,355.22 L109.70,355.56 L110.20,355.88 L110.70,356.19 L111.20,356.50 L111.70,356.80 L112.20,357.10 L112.70,357.40 L113.20,357.70 L113.70,358.01 L114.20,358.31 L114.70,358.62 L115.20,358.92 L115.70,359.22 L116.20,359.51 L116.70,359.80 L117.20,360.09 L117.70,360.37 L118.20,360.64 L118.70,360.91 L119.20,361.17 L119.70,361.42 L120.20,361.67 L120.70,361.92 L121.20,362.15 L121.70,362.39 L122.20,362.62 L122.70,362.85 L123.20,363.07 L123.70,363.30 L124.20,363.53 L124.70,363.75 L125.20,363.98 L125.70,364.21 L126.20,364.45 L126.70,364.68 L127.20,364.92 L127.70,365.15 L128.20,365.39 L128.70,365.63 L129.20,365.86 L129.70,366.10 L130.20,366.33 L130.70,366.56 L131.20,366.79 L131.70,367.01 L132.20,367.23 L132.70,367.44 L133.20,367.65 L133.70,367.86 L134.20,368.06 L134.70,368.26 L135.20,368.45 L135.70,368.64 L136.20,368.83 L136.70,369.01 L137.20,369.20 L137.70,369.38 L138.20,369.56 L138.70,369.73 L139.20,369.91 L139.70,370.07 L140.20,370.24 L140.70,370.40 L141.20,370.56 L141.70,370.71 L142.20,370.85 L142.70,371.00 L143.20,371.13 L143.70,371.26 L144.20,371.38 L144.70,371.50 L145.20,371.61 L145.70,371.71 L146.20,371.81 L146.70,371.90 L147.20,371.99 L147.70,372.08 L148.20,372.16 L148.70,372.24 L149.20,372.31 L149.70,372.39 L150.20,372.46 L150.70,372.53 L151.20,372.60 L151.70,372.66 L152.20,372.73 L152.70,372.80 L153.20,372.86 L153.70,372.93 L154.20,373.00 L154.70,373.06 L155.20,373.13 L155.70,373.20 L156.20,373.26 L156.70,373.33 L157.20,373.40 L157.70,373.46 L158.20,373.53 L158.70,373.59 L159.20,373.66 L159.70,373.72 L160.20,373.79 L160.70,373.85 L161.20,373.92 L161.70,373.98 L162.20,374.04 L162.70,374.09 L163.20,374.13 L163.70,374.17 L164.20,374.20" stroke="#b3163e" stroke-width="1.5" fill="none" stroke-linejoin="round"/>
<path d="M90.40,349.00 L91.00,345.80 L91.60,349.00" stroke="#263f8e" stroke-width="1.2" fill="none" />
<path d="M96.40,349.00 L96.50,342.60 L96.80,349.00" stroke="#5f2e88" stroke-width="1.3" fill="none" />
<path d="M184.40,348.07 L185.00,347.01 L185.60,347.31 L186.20,347.85 L186.80,348.26 L187.40,347.60 L188.00,347.27 L188.60,347.14 L189.20,347.83 L189.80,347.32 L190.40,348.34 L191.00,348.43 L191.60,347.41 L192.20,347.60 L192.80,348.49 L193.40,348.26 L194.00,348.56 L194.60,347.86 L195.20,347.56 L195.80,347.86 L196.40,348.70 L197.00,347.91 L197.60,348.07 L198.20,348.23 L198.80,348.28 L199.40,348.31 L200.00,349.17 L200.60,347.99 L201.20,347.78 L201.80,349.32 L202.40,349.26 L203.00,349.47 L203.60,348.62 L204.20,349.47 L204.80,349.47 L205.40,348.37 L206.00,349.23 L206.60,349.41 L207.20,349.16 L207.80,348.96 L208.40,348.62 L209.00,348.74 L209.60,348.58 L210.20,348.36 L210.80,349.23 L211.40,348.77 L212.00,349.65 L212.60,348.47 L213.20,349.89 L213.80,349.60 L214.40,350.02 L215.00,350.02 L215.60,350.07 L216.20,349.63 L216.80,348.81 L217.40,350.06 L218.00,349.22 L218.60,349.50 L219.20,350.19 L219.80,350.12 L220.40,350.09 L221.00,351.08 L221.60,350.74 L222.20,350.65 L222.80,350.85 L223.40,352.55 L224.00,358.17 L224.60,360.88 L225.20,362.51 L225.80,364.48 L226.40,367.06 L227.00,369.54 L227.60,370.22 L228.20,372.56 L228.80,373.88 L229.40,374.69 L230.00,375.63 L230.60,375.17 L231.20,376.97 L231.80,378.11 L232.40,377.55 L233.00,378.63 L233.60,379.35 L234.20,380.47 L234.80,381.01 L235.40,381.79 L236.00,382.95 L236.60,382.38 L237.20,383.09 L237.80,383.82 L238.40,384.38 L239.00,384.83 L239.60,386.75 L240.20,387.19 L240.80,385.85 L241.40,387.03 L242.00,386.84 L242.60,386.96 L243.20,387.15 L243.80,387.88 L244.40,387.84 L245.00,387.44 L245.60,387.20 L246.20,387.65 L246.80,387.36 L247.40,388.49 L248.00,389.02 L248.60,388.46 L249.20,387.99 L249.80,388.39 L250.40,389.00 L251.00,389.69 L251.60,390.27 L252.20,389.57 L252.80,390.68 L253.40,390.46 L254.00,390.22 L254.60,390.26 L255.20,390.71 L255.80,391.34 L256.40,390.88 L257.00,391.64 L257.60,391.28 L258.20,390.96 L258.80,391.75 L259.40,392.24 L260.00,391.01 L260.60,391.92 L261.20,392.06 L261.80,393.19 L262.40,393.44 L263.00,392.32 L263.60,393.59 L264.20,393.47 L264.80,392.42 L265.40,392.98 L266.00,392.34 L266.60,393.96 L267.20,393.74 L267.80,394.34 L268.40,394.23 L269.00,394.06 L269.60,394.31 L270.20,394.00 L270.80,393.36 L271.40,394.24 L272.00,393.40 L272.60,393.72 L273.20,394.83 L273.80,393.76 L274.40,393.93 L275.00,394.03 L275.60,395.38 L276.20,394.35 L276.80,394.19 L277.40,395.59 L278.00,394.53 L278.60,395.78 L279.20,395.60 L279.80,395.95 L280.40,396.23 L281.00,395.72 L281.60,396.16 L282.20,395.03 L282.80,396.30 L283.40,395.98 L284.00,396.39 L284.60,395.51 L285.20,396.63 L285.80,397.02 L286.40,395.71 L287.00,396.22 L287.60,396.70 L288.20,397.21" stroke="#263f8e" stroke-width="1.9" fill="none" stroke-linejoin="round"/>
<path d="M184.40,347.09 L185.00,347.04 L185.60,347.21 L186.20,347.86 L186.80,348.13 L187.40,347.61 L188.00,347.63 L188.60,347.73 L189.20,347.71 L189.80,347.88 L190.40,347.40 L191.00,348.12 L191.60,348.93 L192.20,348.09 L192.80,348.69 L193.40,347.81 L194.00,348.71 L194.60,348.87 L195.20,348.80 L195.80,348.61 L196.40,348.61 L197.00,348.93 L197.60,349.39 L198.20,348.26 L198.80,348.23 L199.40,349.34 L200.00,349.67 L200.60,349.08 L201.20,349.00 L201.80,349.49 L202.40,348.69 L203.00,348.87 L203.60,348.80 L204.20,349.46 L204.80,349.06 L205.40,348.96 L206.00,349.73 L206.60,350.19 L207.20,349.17 L207.80,349.87 L208.40,349.44 L209.00,350.18 L209.60,349.79 L210.20,349.32 L210.80,349.27 L211.40,349.00 L212.00,349.78 L212.60,349.68 L213.20,349.39 L213.80,349.74 L214.40,349.74 L215.00,350.51 L215.60,349.56 L216.20,351.00 L216.80,350.27 L217.40,350.54 L218.00,350.42 L218.60,351.09 L219.20,351.19 L219.80,350.93 L220.40,350.97 L221.00,351.52 L221.60,351.93 L222.20,351.44 L222.80,352.81 L223.40,354.27 L224.00,359.47 L224.60,361.17 L225.20,363.72 L225.80,367.56 L226.40,369.56 L227.00,372.42 L227.60,373.76 L228.20,373.23 L228.80,374.15 L229.40,375.31 L230.00,375.96 L230.60,378.33 L231.20,379.56 L231.80,380.43 L232.40,379.23 L233.00,381.80 L233.60,380.88 L234.20,381.95 L234.80,383.61 L235.40,382.41 L236.00,383.16 L236.60,386.09 L237.20,385.14 L237.80,386.00 L238.40,387.28 L239.00,388.16 L239.60,386.67 L240.20,388.14 L240.80,388.84 L241.40,389.33 L242.00,388.79 L242.60,390.12 L243.20,391.42 L243.80,389.88 L244.40,390.50 L245.00,389.38 L245.60,390.03 L246.20,391.40 L246.80,389.95 L247.40,392.50 L248.00,392.79 L248.60,390.58 L249.20,393.35 L249.80,391.88 L250.40,392.92 L251.00,393.12 L251.60,392.61 L252.20,393.44 L252.80,393.62 L253.40,394.08 L254.00,393.43 L254.60,394.41 L255.20,394.93 L255.80,394.66 L256.40,394.62 L257.00,394.10 L257.60,394.86 L258.20,394.78 L258.80,395.48 L259.40,395.53 L260.00,395.46 L260.60,394.92 L261.20,395.74 L261.80,395.79 L262.40,395.12 L263.00,396.30 L263.60,395.97 L264.20,395.16 L264.80,396.48 L265.40,395.25 L266.00,395.59 L266.60,396.25 L267.20,396.08 L267.80,396.06 L268.40,396.25 L269.00,395.99 L269.60,395.80 L270.20,395.63 L270.80,395.51 L271.40,396.59 L272.00,396.70 L272.60,396.41 L273.20,396.77 L273.80,396.20 L274.40,396.10 L275.00,396.33 L275.60,397.16 L276.20,395.88 L276.80,396.66 L277.40,396.30 L278.00,397.18 L278.60,396.56 L279.20,396.57 L279.80,396.72 L280.40,396.99 L281.00,397.40 L281.60,396.77 L282.20,397.61 L282.80,396.48 L283.40,396.77 L284.00,396.54 L284.60,396.61 L285.20,397.72 L285.80,397.68 L286.40,396.86 L287.00,396.91 L287.60,397.32 L288.20,397.88" stroke="#52ae3e" stroke-width="2.2" fill="none" stroke-linejoin="round"/>
<path d="M184.40,346.78 L185.00,346.75 L185.60,346.63 L186.20,346.25 L186.80,346.50 L187.40,346.34 L188.00,346.66 L188.60,346.72 L189.20,346.42 L189.80,346.48 L190.40,346.99 L191.00,346.33 L191.60,347.05 L192.20,347.15 L192.80,347.22 L193.40,346.73 L194.00,346.91 L194.60,346.95 L195.20,347.01 L195.80,347.34 L196.40,347.09 L197.00,346.76 L197.60,347.28 L198.20,346.95 L198.80,347.07 L199.40,347.19 L200.00,346.55 L200.60,347.25 L201.20,347.16 L201.80,347.02 L202.40,347.05 L203.00,347.00 L203.60,346.77 L204.20,347.08 L204.80,346.64 L205.40,347.07 L206.00,347.21 L206.60,347.03 L207.20,347.15 L207.80,347.51 L208.40,347.45 L209.00,346.78 L209.60,347.37 L210.20,347.22 L210.80,346.71 L211.40,347.00 L212.00,346.89 L212.60,346.75 L213.20,347.16 L213.80,347.51 L214.40,346.97 L215.00,347.46 L215.60,347.30 L216.20,346.79 L216.80,347.44 L217.40,347.20 L218.00,347.49 L218.60,347.29 L219.20,347.30 L219.80,346.92 L220.40,347.32 L221.00,347.41 L221.60,347.31 L222.20,346.68 L222.80,347.53 L223.40,346.58 L224.00,346.37 L224.60,347.13 L225.20,348.18 L225.80,349.46 L226.40,350.21 L227.00,352.07 L227.60,353.54 L228.20,353.90 L228.80,354.39 L229.40,355.88 L230.00,355.64 L230.60,356.87 L231.20,358.45 L231.80,358.07 L232.40,358.06 L233.00,360.84 L233.60,360.91 L234.20,360.44 L234.80,361.04 L235.40,362.09 L236.00,362.87 L236.60,362.32 L237.20,362.22 L237.80,363.38 L238.40,365.62 L239.00,364.19 L239.60,365.59 L240.20,365.22 L240.80,365.66 L241.40,365.90 L242.00,366.95 L242.60,366.58 L243.20,366.49 L243.80,367.07 L244.40,367.58 L245.00,368.88 L245.60,367.94 L246.20,368.19 L246.80,369.84 L247.40,370.11 L248.00,371.38 L248.60,369.83 L249.20,371.30 L249.80,371.69 L250.40,370.99 L251.00,374.22 L251.60,372.39 L252.20,372.42 L252.80,373.95 L253.40,373.41 L254.00,375.18 L254.60,374.72 L255.20,374.41 L255.80,374.55 L256.40,376.92 L257.00,375.86 L257.60,377.71 L258.20,377.04 L258.80,378.69 L259.40,377.04 L260.00,377.14 L260.60,377.39 L261.20,379.24 L261.80,378.88 L262.40,378.52 L263.00,378.46 L263.60,379.15 L264.20,379.54 L264.80,379.34 L265.40,378.94 L266.00,379.08 L266.60,379.25 L267.20,379.44 L267.80,379.44 L268.40,379.57 L269.00,380.22 L269.60,380.56 L270.20,380.03 L270.80,380.83 L271.40,380.49 L272.00,380.89 L272.60,381.09 L273.20,381.20 L273.80,380.48 L274.40,380.81 L275.00,381.18 L275.60,381.57 L276.20,380.89 L276.80,381.16 L277.40,381.74 L278.00,381.16 L278.60,381.50 L279.20,381.53 L279.80,381.92 L280.40,382.23 L281.00,381.63 L281.60,382.22 L282.20,382.29 L282.80,382.47 L283.40,382.29 L284.00,382.70 L284.60,382.28 L285.20,382.40 L285.80,382.32 L286.40,382.89 L287.00,382.71 L287.60,382.60 L288.20,382.59" stroke="#b3163e" stroke-width="1.8" fill="none" stroke-linejoin="round"/>
<path d="M184.40,345.60 L185.00,345.45 L185.60,345.69 L186.20,345.16 L186.80,345.40 L187.40,344.86 L188.00,345.92 L188.60,344.76 L189.20,345.63 L189.80,346.24 L190.40,346.21 L191.00,345.36 L191.60,345.87 L192.20,347.16 L192.80,346.94 L193.40,347.46 L194.00,347.52 L194.60,346.81 L195.20,347.66 L195.80,347.40 L196.40,346.88 L197.00,346.93 L197.60,346.72 L198.20,347.00 L198.80,347.47 L199.40,346.81 L200.00,347.20 L200.60,346.85 L201.20,346.84 L201.80,347.31 L202.40,347.00 L203.00,346.86 L203.60,346.96 L204.20,347.36 L204.80,347.33 L205.40,346.88 L206.00,347.07 L206.60,347.67 L207.20,347.08 L207.80,347.36 L208.40,347.26 L209.00,347.56 L209.60,347.43 L210.20,347.58 L210.80,347.38 L211.40,347.11 L212.00,347.11 L212.60,347.04 L213.20,347.64 L213.80,347.08 L214.40,347.01 L215.00,347.76 L215.60,347.15 L216.20,347.70 L216.80,347.05 L217.40,347.36 L218.00,347.16 L218.60,347.64 L219.20,347.45 L219.80,347.46 L220.40,347.54 L221.00,347.61 L221.60,347.16 L222.20,347.25 L222.80,347.02 L223.40,346.35 L224.00,348.76 L224.60,349.93 L225.20,351.43 L225.80,352.17 L226.40,353.57 L227.00,354.58 L227.60,355.83 L228.20,356.32 L228.80,357.51 L229.40,358.58 L230.00,359.19 L230.60,360.49 L231.20,361.53 L231.80,362.15 L232.40,363.19 L233.00,363.98 L233.60,364.47 L234.20,365.35 L234.80,366.60 L235.40,366.77 L236.00,367.50 L236.60,367.84 L237.20,368.52 L237.80,369.02 L238.40,370.14 L239.00,370.44 L239.60,371.01 L240.20,371.52 L240.80,371.63 L241.40,372.26 L242.00,372.31 L242.60,372.57 L243.20,373.33 L243.80,373.63 L244.40,374.00 L245.00,373.96 L245.60,374.52 L246.20,374.56 L246.80,375.38 L247.40,375.69 L248.00,375.59 L248.60,376.51 L249.20,376.32 L249.80,376.66 L250.40,377.54 L251.00,377.55 L251.60,378.05 L252.20,378.43 L252.80,378.23 L253.40,379.00 L254.00,378.82 L254.60,379.15 L255.20,379.20 L255.80,379.65 L256.40,379.78 L257.00,379.51 L257.60,379.45 L258.20,379.69 L258.80,379.86 L259.40,379.66 L260.00,379.78 L260.60,380.32 L261.20,380.33 L261.80,380.60 L262.40,380.65 L263.00,380.62 L263.60,380.26 L264.20,380.14 L264.80,380.31 L265.40,380.48 L266.00,380.58 L266.60,380.64 L267.20,380.55 L267.80,381.00 L268.40,380.61 L269.00,380.81 L269.60,381.21 L270.20,381.21 L270.80,380.87 L271.40,380.90 L272.00,381.42 L272.60,380.85 L273.20,381.01 L273.80,381.40 L274.40,381.47 L275.00,381.24 L275.60,381.22 L276.20,381.41 L276.80,381.93 L277.40,381.75 L278.00,382.23 L278.60,382.14 L279.20,382.36 L279.80,381.67 L280.40,381.86 L281.00,381.79 L281.60,382.19 L282.20,382.19 L282.80,382.02 L283.40,382.49 L284.00,382.19 L284.60,382.43 L285.20,382.45 L285.80,382.96 L286.40,382.72 L287.00,382.66 L287.60,382.56 L288.20,382.93" stroke="#5f2e88" stroke-width="1.6" fill="none" stroke-linejoin="round"/>
<path d="M219.60,347.00 L219.80,342.50 L220.20,347.00" stroke="#b3163e" stroke-width="1.2" fill="none" />
<line x1="60.90" y1="505.00" x2="60.90" y2="599.70" stroke="#1a1a1a" stroke-width="1.3" />
<line x1="60.20" y1="599.00" x2="247.50" y2="599.00" stroke="#1a1a1a" stroke-width="1.3" />
<line x1="58.00" y1="599.00" x2="61.00" y2="599.00" stroke="#231f20" stroke-width="1.2" />
<text x="54.40" y="602.40" font-size="9.4" fill="#231f20" text-anchor="end" >0</text>
<line x1="58.00" y1="572.20" x2="61.00" y2="572.20" stroke="#231f20" stroke-width="1.2" />
<text x="54.40" y="575.60" font-size="9.4" fill="#231f20" text-anchor="end" >20</text>
<line x1="58.00" y1="545.40" x2="61.00" y2="545.40" stroke="#231f20" stroke-width="1.2" />
<text x="54.40" y="548.80" font-size="9.4" fill="#231f20" text-anchor="end" >40</text>
<line x1="58.00" y1="518.60" x2="61.00" y2="518.60" stroke="#231f20" stroke-width="1.2" />
<text x="54.40" y="522.00" font-size="9.4" fill="#231f20" text-anchor="end" >60</text>
<text x="36.80" y="552.00" font-size="10.8" fill="#231f20" text-anchor="middle" textLength="58.40" lengthAdjust="spacingAndGlyphs" transform="rotate(-90 36.80 552.00)" >Aggregation %</text>
<rect x="70.40" y="582.00" width="17.20" height="17.00" fill="#9b80b1" stroke="none" stroke-width="0" />
<rect x="93.40" y="567.60" width="16.60" height="31.40" fill="#b7d79c" stroke="none" stroke-width="0" />
<rect x="116.00" y="585.00" width="17.00" height="14.00" fill="#d78d7c" stroke="none" stroke-width="0" />
<rect x="138.40" y="573.00" width="17.00" height="26.00" fill="#8a95c3" stroke="none" stroke-width="0" />
<rect x="161.00" y="545.00" width="16.60" height="54.00" fill="#9b80b1" stroke="none" stroke-width="0" />
<rect x="183.40" y="521.00" width="16.60" height="78.00" fill="#b7d79c" stroke="none" stroke-width="0" />
<rect x="206.40" y="549.00" width="16.60" height="50.00" fill="#d78d7c" stroke="none" stroke-width="0" />
<rect x="229.00" y="520.00" width="16.60" height="79.00" fill="#8a95c3" stroke="none" stroke-width="0" />
<circle cx="78.60" cy="568.40" r="3.25" fill="#d9cce3" stroke="#6a2c8e" stroke-width="1.3"/>
<circle cx="73.40" cy="587.60" r="3.25" fill="#d9cce3" stroke="#6a2c8e" stroke-width="1.3"/>
<circle cx="84.40" cy="586.60" r="3.25" fill="#d9cce3" stroke="#6a2c8e" stroke-width="1.3"/>
<circle cx="79.00" cy="581.60" r="3.25" fill="#d9cce3" stroke="#6a2c8e" stroke-width="1.3"/>
<line x1="79.00" y1="577.00" x2="79.00" y2="585.60" stroke="#231f20" stroke-width="1.2" />
<line x1="74.70" y1="577.00" x2="83.30" y2="577.00" stroke="#231f20" stroke-width="1.2" />
<line x1="74.70" y1="585.60" x2="83.30" y2="585.60" stroke="#231f20" stroke-width="1.2" />
<circle cx="96.00" cy="561.00" r="3.25" fill="#dfeed5" stroke="#5cab3e" stroke-width="1.3"/>
<circle cx="107.40" cy="557.60" r="3.25" fill="#dfeed5" stroke="#5cab3e" stroke-width="1.3"/>
<circle cx="101.60" cy="577.60" r="3.25" fill="#dfeed5" stroke="#5cab3e" stroke-width="1.3"/>
<line x1="101.60" y1="562.40" x2="101.60" y2="571.00" stroke="#231f20" stroke-width="1.2" />
<line x1="97.80" y1="562.40" x2="105.40" y2="562.40" stroke="#231f20" stroke-width="1.2" />
<line x1="97.80" y1="571.00" x2="105.40" y2="571.00" stroke="#231f20" stroke-width="1.2" />
<circle cx="124.00" cy="572.00" r="3.25" fill="#efd2cf" stroke="#c1173c" stroke-width="1.3"/>
<circle cx="118.60" cy="584.60" r="3.25" fill="#efd2cf" stroke="#c1173c" stroke-width="1.3"/>
<circle cx="129.60" cy="589.00" r="3.25" fill="#efd2cf" stroke="#c1173c" stroke-width="1.3"/>
<circle cx="118.60" cy="591.60" r="3.25" fill="#efd2cf" stroke="#c1173c" stroke-width="1.3"/>
<line x1="124.00" y1="579.60" x2="124.00" y2="589.00" stroke="#231f20" stroke-width="1.2" />
<line x1="120.00" y1="579.60" x2="128.00" y2="579.60" stroke="#231f20" stroke-width="1.2" />
<line x1="120.00" y1="589.00" x2="128.00" y2="589.00" stroke="#231f20" stroke-width="1.2" />
<circle cx="147.00" cy="549.60" r="3.25" fill="#cfd5e9" stroke="#2c4e9a" stroke-width="1.3"/>
<circle cx="141.00" cy="580.40" r="3.25" fill="#cfd5e9" stroke="#2c4e9a" stroke-width="1.3"/>
<circle cx="152.60" cy="580.40" r="3.25" fill="#cfd5e9" stroke="#2c4e9a" stroke-width="1.3"/>
<circle cx="147.00" cy="576.00" r="3.25" fill="#cfd5e9" stroke="#2c4e9a" stroke-width="1.3"/>
<line x1="147.00" y1="564.40" x2="147.00" y2="579.00" stroke="#231f20" stroke-width="1.2" />
<line x1="141.80" y1="564.40" x2="152.20" y2="564.40" stroke="#231f20" stroke-width="1.2" />
<line x1="141.80" y1="579.00" x2="152.20" y2="579.00" stroke="#231f20" stroke-width="1.2" />
<circle cx="169.40" cy="535.00" r="3.25" fill="#d9cce3" stroke="#6a2c8e" stroke-width="1.3"/>
<circle cx="163.60" cy="549.60" r="3.25" fill="#d9cce3" stroke="#6a2c8e" stroke-width="1.3"/>
<circle cx="175.00" cy="545.00" r="3.25" fill="#d9cce3" stroke="#6a2c8e" stroke-width="1.3"/>
<circle cx="169.60" cy="545.50" r="3.25" fill="#d9cce3" stroke="#6a2c8e" stroke-width="1.3"/>
<line x1="169.40" y1="541.50" x2="169.40" y2="546.50" stroke="#231f20" stroke-width="1.2" />
<line x1="164.90" y1="541.50" x2="173.90" y2="541.50" stroke="#231f20" stroke-width="1.2" />
<line x1="164.90" y1="546.50" x2="173.90" y2="546.50" stroke="#231f20" stroke-width="1.2" />
<circle cx="186.60" cy="513.00" r="3.25" fill="#dfeed5" stroke="#5cab3e" stroke-width="1.3"/>
<circle cx="192.00" cy="511.60" r="3.25" fill="#dfeed5" stroke="#5cab3e" stroke-width="1.3"/>
<circle cx="197.60" cy="517.40" r="3.25" fill="#dfeed5" stroke="#5cab3e" stroke-width="1.3"/>
<circle cx="194.40" cy="527.00" r="3.25" fill="#dfeed5" stroke="#5cab3e" stroke-width="1.3"/>
<circle cx="189.40" cy="532.00" r="3.25" fill="#dfeed5" stroke="#5cab3e" stroke-width="1.3"/>
<line x1="192.00" y1="517.00" x2="192.00" y2="524.50" stroke="#231f20" stroke-width="1.2" />
<line x1="188.00" y1="517.00" x2="196.00" y2="517.00" stroke="#231f20" stroke-width="1.2" />
<line x1="188.00" y1="524.50" x2="196.00" y2="524.50" stroke="#231f20" stroke-width="1.2" />
<circle cx="214.00" cy="536.00" r="3.25" fill="#efd2cf" stroke="#c1173c" stroke-width="1.3"/>
<circle cx="209.40" cy="551.60" r="3.25" fill="#efd2cf" stroke="#c1173c" stroke-width="1.3"/>
<circle cx="220.40" cy="548.00" r="3.25" fill="#efd2cf" stroke="#c1173c" stroke-width="1.3"/>
<circle cx="216.00" cy="548.00" r="3.25" fill="#efd2cf" stroke="#c1173c" stroke-width="1.3"/>
<circle cx="211.00" cy="546.00" r="3.25" fill="#efd2cf" stroke="#c1173c" stroke-width="1.3"/>
<line x1="214.70" y1="544.50" x2="214.70" y2="550.50" stroke="#231f20" stroke-width="1.2" />
<line x1="210.20" y1="544.50" x2="219.20" y2="544.50" stroke="#231f20" stroke-width="1.2" />
<line x1="210.20" y1="550.50" x2="219.20" y2="550.50" stroke="#231f20" stroke-width="1.2" />
<circle cx="232.00" cy="518.00" r="3.25" fill="#cfd5e9" stroke="#2c4e9a" stroke-width="1.3"/>
<circle cx="235.00" cy="515.60" r="3.25" fill="#cfd5e9" stroke="#2c4e9a" stroke-width="1.3"/>
<circle cx="242.40" cy="516.40" r="3.25" fill="#cfd5e9" stroke="#2c4e9a" stroke-width="1.3"/>
<circle cx="235.00" cy="525.00" r="3.25" fill="#cfd5e9" stroke="#2c4e9a" stroke-width="1.3"/>
<circle cx="239.00" cy="519.00" r="3.25" fill="#cfd5e9" stroke="#2c4e9a" stroke-width="1.3"/>
<line x1="236.50" y1="517.50" x2="236.50" y2="521.50" stroke="#231f20" stroke-width="1.2" />
<line x1="232.50" y1="517.50" x2="240.50" y2="517.50" stroke="#231f20" stroke-width="1.2" />
<line x1="232.50" y1="521.50" x2="240.50" y2="521.50" stroke="#231f20" stroke-width="1.2" />
<path d="M101.00,545.00 L101.00,539.40 L124.40,539.40 L124.40,545.00" stroke="#111" stroke-width="1.4" fill="none" />
<text x="112.40" y="540.46" font-size="10.5" fill="#231f20" text-anchor="middle" >*</text>
<path d="M167.60,481.60 L167.60,477.00 L240.40,477.00 L240.40,481.60" stroke="#111" stroke-width="1.4" fill="none" />
<text x="204.00" y="477.86" font-size="10.5" fill="#231f20" text-anchor="middle" >***</text>
<path d="M167.60,503.60 L167.60,499.00 L191.00,499.00 L191.00,503.60" stroke="#111" stroke-width="1.4" fill="none" />
<text x="179.40" y="499.86" font-size="10.5" fill="#231f20" text-anchor="middle" >***</text>
<path d="M193.60,503.60 L193.60,499.00 L216.60,499.00 L216.60,503.60" stroke="#111" stroke-width="1.4" fill="none" />
<text x="205.40" y="499.86" font-size="10.5" fill="#231f20" text-anchor="middle" >***</text>
<path d="M219.40,503.60 L219.40,499.00 L242.40,499.00 L242.40,503.60" stroke="#111" stroke-width="1.4" fill="none" />
<text x="231.00" y="499.86" font-size="10.5" fill="#231f20" text-anchor="middle" >***</text>
<text x="85.50" y="609.00" font-size="9.0" fill="#231f20" text-anchor="end" transform="rotate(-45 85.50 609.00)" >Sol</text>
<text x="108.50" y="609.00" font-size="9.0" fill="#231f20" text-anchor="end" transform="rotate(-45 108.50 609.00)" >FL</text>
<text x="130.50" y="609.00" font-size="9.0" fill="#231f20" text-anchor="end" transform="rotate(-45 130.50 609.00)" >ΔKazal</text>
<text x="155.50" y="609.00" font-size="9.0" fill="#231f20" text-anchor="end" transform="rotate(-45 155.50 609.00)" >Kazal</text>
<text x="175.50" y="609.00" font-size="9.0" fill="#231f20" text-anchor="end" transform="rotate(-45 175.50 609.00)" >Sol</text>
<text x="198.00" y="609.00" font-size="9.0" fill="#231f20" text-anchor="end" transform="rotate(-45 198.00 609.00)" >FL</text>
<text x="220.50" y="609.00" font-size="9.0" fill="#231f20" text-anchor="end" transform="rotate(-45 220.50 609.00)" >ΔKazal</text>
<text x="245.50" y="609.00" font-size="9.0" fill="#231f20" text-anchor="end" transform="rotate(-45 245.50 609.00)" >Kazal</text>
<path d="M66.4,633 L66.4,637.6 L154,637.6 L154,633" stroke="#231f20" stroke-width="1.3" fill="none" />
<path d="M160,633 L160,637.6 L254,637.6 L254,633" stroke="#231f20" stroke-width="1.3" fill="none" />
<text x="110.00" y="650.00" font-size="9.4" fill="#231f20" text-anchor="middle" >0.03</text>
<text x="206.00" y="650.00" font-size="9.4" fill="#231f20" text-anchor="middle" >0.1</text>
<text x="158.50" y="664.60" font-size="10.8" fill="#231f20" text-anchor="middle" textLength="65.00" lengthAdjust="spacingAndGlyphs" >Thrombin (U/ml)</text>
<line x1="348.90" y1="510.00" x2="348.90" y2="591.20" stroke="#1a1a1a" stroke-width="1.3" />
<line x1="348.20" y1="590.50" x2="460.80" y2="590.50" stroke="#1a1a1a" stroke-width="1.3" />
<line x1="346.60" y1="590.50" x2="349.60" y2="590.50" stroke="#231f20" stroke-width="1.2" />
<text x="342.80" y="593.90" font-size="9.4" fill="#231f20" text-anchor="end" >0</text>
<line x1="346.60" y1="564.70" x2="349.60" y2="564.70" stroke="#231f20" stroke-width="1.2" />
<text x="342.80" y="568.10" font-size="9.4" fill="#231f20" text-anchor="end" >1</text>
<line x1="346.60" y1="538.90" x2="349.60" y2="538.90" stroke="#231f20" stroke-width="1.2" />
<text x="342.80" y="542.30" font-size="9.4" fill="#231f20" text-anchor="end" >2</text>
<line x1="346.60" y1="513.10" x2="349.60" y2="513.10" stroke="#231f20" stroke-width="1.2" />
<text x="342.80" y="516.50" font-size="9.4" fill="#231f20" text-anchor="end" >3</text>
<text x="330.70" y="550.60" font-size="10.8" fill="#231f20" text-anchor="middle" textLength="68.60" lengthAdjust="spacingAndGlyphs" transform="rotate(-90 330.70 550.60)" >Absorbance (/Sol)</text>
<rect x="352.40" y="568.00" width="21.20" height="22.50" fill="#9b80b1" stroke="none" stroke-width="0" />
<rect x="380.00" y="531.00" width="21.40" height="59.50" fill="#b7d79c" stroke="none" stroke-width="0" />
<rect x="407.70" y="564.00" width="21.50" height="26.50" fill="#d78d7c" stroke="none" stroke-width="0" />
<rect x="435.20" y="534.40" width="21.80" height="56.10" fill="#8a95c3" stroke="none" stroke-width="0" />
<circle cx="355.00" cy="561.40" r="3.40" fill="#d9cce3" stroke="#6a2c8e" stroke-width="1.35"/>
<circle cx="363.00" cy="561.40" r="3.40" fill="#d9cce3" stroke="#6a2c8e" stroke-width="1.35"/>
<circle cx="371.00" cy="566.00" r="3.40" fill="#d9cce3" stroke="#6a2c8e" stroke-width="1.35"/>
<circle cx="363.00" cy="569.00" r="3.40" fill="#d9cce3" stroke="#6a2c8e" stroke-width="1.35"/>
<circle cx="363.00" cy="577.40" r="3.40" fill="#d9cce3" stroke="#6a2c8e" stroke-width="1.35"/>
<line x1="363.00" y1="564.40" x2="363.00" y2="570.00" stroke="#333" stroke-width="1.2" />
<line x1="358.50" y1="564.40" x2="367.50" y2="564.40" stroke="#333" stroke-width="1.2" />
<line x1="358.50" y1="570.00" x2="367.50" y2="570.00" stroke="#333" stroke-width="1.2" />
<circle cx="382.40" cy="531.00" r="3.40" fill="#dfeed5" stroke="#5cab3e" stroke-width="1.35"/>
<circle cx="398.40" cy="524.40" r="3.40" fill="#dfeed5" stroke="#5cab3e" stroke-width="1.35"/>
<circle cx="390.40" cy="535.60" r="3.40" fill="#dfeed5" stroke="#5cab3e" stroke-width="1.35"/>
<circle cx="398.40" cy="536.00" r="3.40" fill="#dfeed5" stroke="#5cab3e" stroke-width="1.35"/>
<circle cx="382.40" cy="540.40" r="3.40" fill="#dfeed5" stroke="#5cab3e" stroke-width="1.35"/>
<line x1="391.00" y1="529.00" x2="391.00" y2="533.00" stroke="#333" stroke-width="1.2" />
<line x1="386.70" y1="529.00" x2="395.30" y2="529.00" stroke="#333" stroke-width="1.2" />
<line x1="386.70" y1="533.00" x2="395.30" y2="533.00" stroke="#333" stroke-width="1.2" />
<circle cx="418.00" cy="551.60" r="3.40" fill="#efd2cf" stroke="#c1173c" stroke-width="1.35"/>
<circle cx="426.40" cy="559.00" r="3.40" fill="#efd2cf" stroke="#c1173c" stroke-width="1.35"/>
<circle cx="418.00" cy="565.00" r="3.40" fill="#efd2cf" stroke="#c1173c" stroke-width="1.35"/>
<circle cx="426.00" cy="569.00" r="3.40" fill="#efd2cf" stroke="#c1173c" stroke-width="1.35"/>
<circle cx="410.00" cy="571.00" r="3.40" fill="#efd2cf" stroke="#c1173c" stroke-width="1.35"/>
<line x1="418.00" y1="557.00" x2="418.00" y2="563.00" stroke="#333" stroke-width="1.2" />
<line x1="413.00" y1="557.00" x2="423.00" y2="557.00" stroke="#333" stroke-width="1.2" />
<line x1="413.00" y1="563.00" x2="423.00" y2="563.00" stroke="#333" stroke-width="1.2" />
<circle cx="442.00" cy="521.60" r="3.40" fill="#cfd5e9" stroke="#2c4e9a" stroke-width="1.35"/>
<circle cx="450.00" cy="525.60" r="3.40" fill="#cfd5e9" stroke="#2c4e9a" stroke-width="1.35"/>
<circle cx="446.00" cy="539.00" r="3.40" fill="#cfd5e9" stroke="#2c4e9a" stroke-width="1.35"/>
<circle cx="454.00" cy="539.60" r="3.40" fill="#cfd5e9" stroke="#2c4e9a" stroke-width="1.35"/>
<circle cx="438.00" cy="542.00" r="3.40" fill="#cfd5e9" stroke="#2c4e9a" stroke-width="1.35"/>
<line x1="446.00" y1="529.60" x2="446.00" y2="537.00" stroke="#333" stroke-width="1.2" />
<line x1="441.50" y1="529.60" x2="450.50" y2="529.60" stroke="#333" stroke-width="1.2" />
<line x1="441.50" y1="537.00" x2="450.50" y2="537.00" stroke="#333" stroke-width="1.2" />
<path d="M360.60,512.00 L360.60,507.00 L387.40,507.00 L387.40,512.00" stroke="#111" stroke-width="1.4" fill="none" />
<text x="374.00" y="508.46" font-size="10.5" fill="#231f20" text-anchor="middle" >***</text>
<path d="M390.40,518.40 L390.40,513.60 L417.00,513.60 L417.00,518.40" stroke="#111" stroke-width="1.4" fill="none" />
<text x="403.60" y="515.06" font-size="10.5" fill="#231f20" text-anchor="middle" >***</text>
<path d="M419.60,512.40 L419.60,507.60 L446.40,507.60 L446.40,512.40" stroke="#111" stroke-width="1.4" fill="none" />
<text x="433.00" y="509.06" font-size="10.5" fill="#231f20" text-anchor="middle" >***</text>
<text x="367.50" y="602.00" font-size="9.2" fill="#231f20" text-anchor="end" transform="rotate(-45 367.50 602.00)" >Sol</text>
<text x="395.50" y="602.00" font-size="9.2" fill="#231f20" text-anchor="end" transform="rotate(-45 395.50 602.00)" >FL</text>
<text x="425.50" y="602.00" font-size="9.2" fill="#231f20" text-anchor="end" transform="rotate(-45 425.50 602.00)" >ΔKazal</text>
<text x="451.50" y="602.00" font-size="9.2" fill="#231f20" text-anchor="end" transform="rotate(-45 451.50 602.00)" >Kazal</text>
<rect x="0.75" y="0.75" width="518.5" height="674.5" fill="none" stroke="#000" stroke-width="1.6"/>
</svg>
</body></html>
